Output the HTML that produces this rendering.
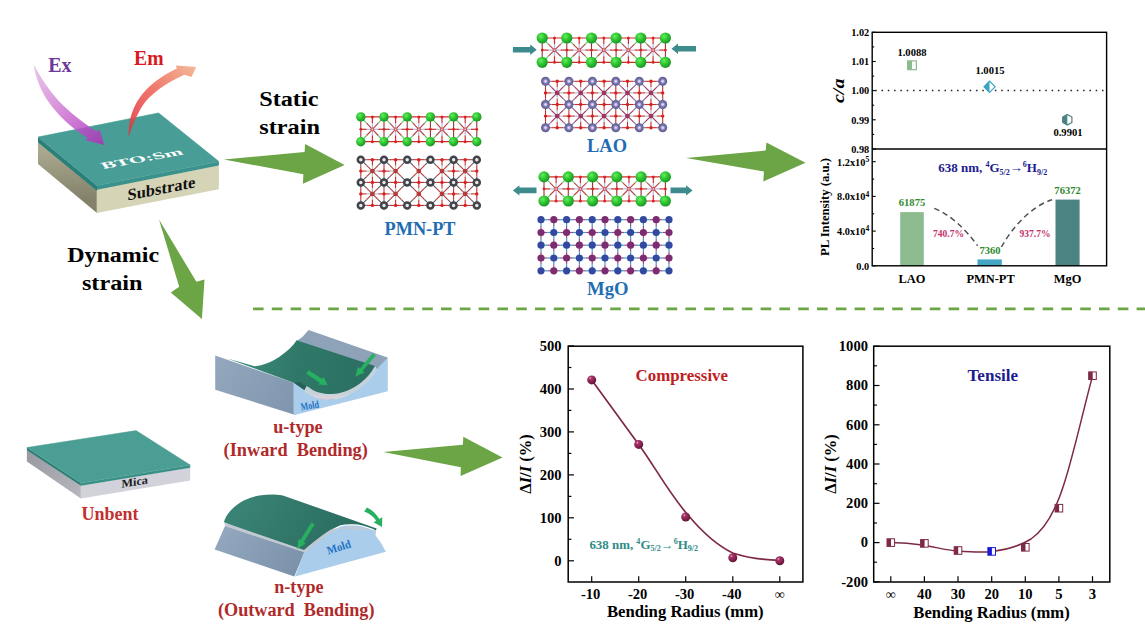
<!DOCTYPE html>
<html><head><meta charset="utf-8"><title>Figure</title>
<style>
html,body{margin:0;padding:0;background:#fff;}
body{width:1145px;height:644px;overflow:hidden;font-family:"Liberation Serif",serif;}
svg{display:block;font-family:"Liberation Serif",serif;}
</style></head><body>
<svg width="1145" height="644" viewBox="0 0 1145 644">
<rect width="1145" height="644" fill="#fff"/>
<defs>
<linearGradient id="gEx" gradientUnits="userSpaceOnUse" x1="34" y1="64" x2="104" y2="145">
<stop offset="0" stop-color="#d69ad6" stop-opacity="0.55"/><stop offset="0.5" stop-color="#cc6fd0" stop-opacity="0.8"/><stop offset="0.8" stop-color="#b848c4" stop-opacity="0.85"/><stop offset="1" stop-color="#a736b6" stop-opacity="0.9"/></linearGradient>
<linearGradient id="gEm" gradientUnits="userSpaceOnUse" x1="129" y1="137" x2="196" y2="67">
<stop offset="0" stop-color="#d83238" stop-opacity="0.75"/><stop offset="0.2" stop-color="#e8484c" stop-opacity="0.9"/><stop offset="0.55" stop-color="#f07a6e"/><stop offset="1" stop-color="#f4b898"/></linearGradient>
<linearGradient id="gSubL" gradientUnits="userSpaceOnUse" x1="60" y1="150" x2="60" y2="200">
<stop offset="0" stop-color="#aaa88e"/><stop offset="1" stop-color="#838169"/></linearGradient>
</defs>
<polygon points="38.0,142.3 97.0,190.6 97.0,213.0 38.0,164.0" fill="url(#gSubL)"/>
<polygon points="96.7,189.2 218.9,165.4 218.9,189.3 96.7,213.0" fill="#d6d4b6"/>
<polygon points="38.0,137.1 97.0,185.4 97.0,190.9 38.0,142.6" fill="#2b7f79"/>
<polygon points="97.0,185.4 218.9,161.6 218.9,165.4 97.0,189.8" fill="#3b918b"/>
<polygon points="38.0,137.1 158.6,113.0 218.9,161.6 97.0,185.4" fill="#489e97" stroke="#489e97" stroke-width="0.7"/>
<text transform="matrix(1.512,-0.277,0.465,0.63,103.4,169.1)" font-size="14" fill="#fff" font-weight="bold">BTO:Sm</text>
<text transform="matrix(1,-0.195,0,1,127.5,200.5)" font-size="16.5" fill="#111" font-weight="bold">Substrate</text>
<path d="M33.5,64.3 C35.5,77 40.5,90.5 48.3,101.6 C58,115.5 72,129 87.7,138 L84.8,140.1 L104.2,145.1 L99.5,129.5 L96.6,131.6 C82,122.5 69,111.5 59.2,101.6 C49.5,91 41,78.5 33.5,64.3 Z" fill="url(#gEx)"/>
<path d="M128.6,137.7 C128,123 131.5,109.5 139.5,98.1 C148,86 161,76 176.8,68.6 L176,65.5 L196.2,66.9 L191.5,76.9 L184.5,74.8 C170,81 158,89 148.8,98.1 C140,107 134,121 128.6,137.7 Z" fill="url(#gEm)"/>
<text x="48.3" y="71.9" font-size="20" fill="#6b3a9a" font-weight="bold" textLength="23.3" lengthAdjust="spacingAndGlyphs">Ex</text>
<text x="134.1" y="64.9" font-size="20" fill="#d8191f" font-weight="bold" textLength="29.5" lengthAdjust="spacingAndGlyphs">Em</text>
<text x="259.2" y="106.0" font-size="20.8" fill="#000" font-weight="bold" textLength="59.2" lengthAdjust="spacingAndGlyphs">Static</text>
<text x="259.2" y="134.3" font-size="20.8" fill="#000" font-weight="bold" textLength="60.8" lengthAdjust="spacingAndGlyphs">strain</text>
<text x="67.2" y="261.6" font-size="20.8" fill="#000" font-weight="bold" textLength="92.0" lengthAdjust="spacingAndGlyphs">Dynamic</text>
<text x="81.9" y="289.9" font-size="20.8" fill="#000" font-weight="bold" textLength="60.6" lengthAdjust="spacingAndGlyphs">strain</text>
<polygon points="223.9,159.5 304.6,152 305.1,144.1 344.6,165.1 302.9,183.8 303.4,174.2" fill="#6ba545"/>
<polygon points="159,219.6 196.4,281.8 204.5,279.4 201.9,319.1 170.8,292.5 179.2,286.8" fill="#6ba545"/>
<polygon points="686.1,157.9 765.7,150.5 766.4,142.4 805.5,162.8 763.3,181.5 763.9,171.5" fill="#6ba545"/>
<polygon points="383.3,451.9 462.9,444.7 463.3,436.8 502.5,457.5 460.6,476 460.8,467.3" fill="#6ba545"/>
<line x1="253" y1="308.9" x2="1146" y2="308.9" stroke="#6ba545" stroke-width="2.6" stroke-dasharray="10.6 8.2"/>
<defs>
<radialGradient id="gBa" cx="0.38" cy="0.35" r="0.65">
<stop offset="0" stop-color="#66ec66"/><stop offset="0.5" stop-color="#2ec82e"/><stop offset="1" stop-color="#1c962a"/></radialGradient>
<radialGradient id="gLa" cx="0.5" cy="0.5" r="0.5"><stop offset="0" stop-color="#f4eeff"/><stop offset="0.2" stop-color="#d2caf2"/><stop offset="0.52" stop-color="#7a74ae"/><stop offset="1" stop-color="#5e5e8c"/></radialGradient>
</defs>
<line x1="360.8" y1="116.9" x2="476.8" y2="116.9" stroke="#cc2e2e" stroke-width="1.2"/>
<line x1="360.8" y1="141.7" x2="476.8" y2="141.7" stroke="#cc2e2e" stroke-width="1.2"/>
<line x1="360.8" y1="116.9" x2="360.8" y2="141.7" stroke="#9a3232" stroke-width="1.1"/>
<line x1="384.0" y1="116.9" x2="384.0" y2="141.7" stroke="#9a3232" stroke-width="1.1"/>
<line x1="407.2" y1="116.9" x2="407.2" y2="141.7" stroke="#9a3232" stroke-width="1.1"/>
<line x1="430.4" y1="116.9" x2="430.4" y2="141.7" stroke="#9a3232" stroke-width="1.1"/>
<line x1="453.6" y1="116.9" x2="453.6" y2="141.7" stroke="#9a3232" stroke-width="1.1"/>
<line x1="476.8" y1="116.9" x2="476.8" y2="141.7" stroke="#9a3232" stroke-width="1.1"/>
<line x1="372.4" y1="129.3" x2="372.4" y2="123.1" stroke="#b9b4e2" stroke-width="1.2"/>
<line x1="372.4" y1="123.1" x2="372.4" y2="116.9" stroke="#cc2e2e" stroke-width="1.2"/>
<line x1="372.4" y1="129.3" x2="372.4" y2="135.5" stroke="#b9b4e2" stroke-width="1.2"/>
<line x1="372.4" y1="135.5" x2="372.4" y2="141.7" stroke="#cc2e2e" stroke-width="1.2"/>
<line x1="372.4" y1="129.3" x2="366.6" y2="129.3" stroke="#b9b4e2" stroke-width="1.2"/>
<line x1="366.6" y1="129.3" x2="360.8" y2="129.3" stroke="#cc2e2e" stroke-width="1.2"/>
<line x1="372.4" y1="129.3" x2="378.2" y2="129.3" stroke="#b9b4e2" stroke-width="1.2"/>
<line x1="378.2" y1="129.3" x2="384.0" y2="129.3" stroke="#cc2e2e" stroke-width="1.2"/>
<line x1="360.8" y1="116.9" x2="366.6" y2="123.1" stroke="#62c862" stroke-width="1.1"/>
<line x1="366.6" y1="123.1" x2="372.4" y2="129.3" stroke="#b84646" stroke-width="1.2"/>
<line x1="384.0" y1="116.9" x2="378.2" y2="123.1" stroke="#62c862" stroke-width="1.1"/>
<line x1="378.2" y1="123.1" x2="372.4" y2="129.3" stroke="#b84646" stroke-width="1.2"/>
<line x1="360.8" y1="141.7" x2="366.6" y2="135.5" stroke="#62c862" stroke-width="1.1"/>
<line x1="366.6" y1="135.5" x2="372.4" y2="129.3" stroke="#b84646" stroke-width="1.2"/>
<line x1="384.0" y1="141.7" x2="378.2" y2="135.5" stroke="#62c862" stroke-width="1.1"/>
<line x1="378.2" y1="135.5" x2="372.4" y2="129.3" stroke="#b84646" stroke-width="1.2"/>
<line x1="395.6" y1="129.3" x2="395.6" y2="123.1" stroke="#b9b4e2" stroke-width="1.2"/>
<line x1="395.6" y1="123.1" x2="395.6" y2="116.9" stroke="#cc2e2e" stroke-width="1.2"/>
<line x1="395.6" y1="129.3" x2="395.6" y2="135.5" stroke="#b9b4e2" stroke-width="1.2"/>
<line x1="395.6" y1="135.5" x2="395.6" y2="141.7" stroke="#cc2e2e" stroke-width="1.2"/>
<line x1="395.6" y1="129.3" x2="389.8" y2="129.3" stroke="#b9b4e2" stroke-width="1.2"/>
<line x1="389.8" y1="129.3" x2="384.0" y2="129.3" stroke="#cc2e2e" stroke-width="1.2"/>
<line x1="395.6" y1="129.3" x2="401.4" y2="129.3" stroke="#b9b4e2" stroke-width="1.2"/>
<line x1="401.4" y1="129.3" x2="407.2" y2="129.3" stroke="#cc2e2e" stroke-width="1.2"/>
<line x1="384.0" y1="116.9" x2="389.8" y2="123.1" stroke="#62c862" stroke-width="1.1"/>
<line x1="389.8" y1="123.1" x2="395.6" y2="129.3" stroke="#b84646" stroke-width="1.2"/>
<line x1="407.2" y1="116.9" x2="401.4" y2="123.1" stroke="#62c862" stroke-width="1.1"/>
<line x1="401.4" y1="123.1" x2="395.6" y2="129.3" stroke="#b84646" stroke-width="1.2"/>
<line x1="384.0" y1="141.7" x2="389.8" y2="135.5" stroke="#62c862" stroke-width="1.1"/>
<line x1="389.8" y1="135.5" x2="395.6" y2="129.3" stroke="#b84646" stroke-width="1.2"/>
<line x1="407.2" y1="141.7" x2="401.4" y2="135.5" stroke="#62c862" stroke-width="1.1"/>
<line x1="401.4" y1="135.5" x2="395.6" y2="129.3" stroke="#b84646" stroke-width="1.2"/>
<line x1="418.8" y1="129.3" x2="418.8" y2="123.1" stroke="#b9b4e2" stroke-width="1.2"/>
<line x1="418.8" y1="123.1" x2="418.8" y2="116.9" stroke="#cc2e2e" stroke-width="1.2"/>
<line x1="418.8" y1="129.3" x2="418.8" y2="135.5" stroke="#b9b4e2" stroke-width="1.2"/>
<line x1="418.8" y1="135.5" x2="418.8" y2="141.7" stroke="#cc2e2e" stroke-width="1.2"/>
<line x1="418.8" y1="129.3" x2="413.0" y2="129.3" stroke="#b9b4e2" stroke-width="1.2"/>
<line x1="413.0" y1="129.3" x2="407.2" y2="129.3" stroke="#cc2e2e" stroke-width="1.2"/>
<line x1="418.8" y1="129.3" x2="424.6" y2="129.3" stroke="#b9b4e2" stroke-width="1.2"/>
<line x1="424.6" y1="129.3" x2="430.4" y2="129.3" stroke="#cc2e2e" stroke-width="1.2"/>
<line x1="407.2" y1="116.9" x2="413.0" y2="123.1" stroke="#62c862" stroke-width="1.1"/>
<line x1="413.0" y1="123.1" x2="418.8" y2="129.3" stroke="#b84646" stroke-width="1.2"/>
<line x1="430.4" y1="116.9" x2="424.6" y2="123.1" stroke="#62c862" stroke-width="1.1"/>
<line x1="424.6" y1="123.1" x2="418.8" y2="129.3" stroke="#b84646" stroke-width="1.2"/>
<line x1="407.2" y1="141.7" x2="413.0" y2="135.5" stroke="#62c862" stroke-width="1.1"/>
<line x1="413.0" y1="135.5" x2="418.8" y2="129.3" stroke="#b84646" stroke-width="1.2"/>
<line x1="430.4" y1="141.7" x2="424.6" y2="135.5" stroke="#62c862" stroke-width="1.1"/>
<line x1="424.6" y1="135.5" x2="418.8" y2="129.3" stroke="#b84646" stroke-width="1.2"/>
<line x1="442.0" y1="129.3" x2="442.0" y2="123.1" stroke="#b9b4e2" stroke-width="1.2"/>
<line x1="442.0" y1="123.1" x2="442.0" y2="116.9" stroke="#cc2e2e" stroke-width="1.2"/>
<line x1="442.0" y1="129.3" x2="442.0" y2="135.5" stroke="#b9b4e2" stroke-width="1.2"/>
<line x1="442.0" y1="135.5" x2="442.0" y2="141.7" stroke="#cc2e2e" stroke-width="1.2"/>
<line x1="442.0" y1="129.3" x2="436.2" y2="129.3" stroke="#b9b4e2" stroke-width="1.2"/>
<line x1="436.2" y1="129.3" x2="430.4" y2="129.3" stroke="#cc2e2e" stroke-width="1.2"/>
<line x1="442.0" y1="129.3" x2="447.8" y2="129.3" stroke="#b9b4e2" stroke-width="1.2"/>
<line x1="447.8" y1="129.3" x2="453.6" y2="129.3" stroke="#cc2e2e" stroke-width="1.2"/>
<line x1="430.4" y1="116.9" x2="436.2" y2="123.1" stroke="#62c862" stroke-width="1.1"/>
<line x1="436.2" y1="123.1" x2="442.0" y2="129.3" stroke="#b84646" stroke-width="1.2"/>
<line x1="453.6" y1="116.9" x2="447.8" y2="123.1" stroke="#62c862" stroke-width="1.1"/>
<line x1="447.8" y1="123.1" x2="442.0" y2="129.3" stroke="#b84646" stroke-width="1.2"/>
<line x1="430.4" y1="141.7" x2="436.2" y2="135.5" stroke="#62c862" stroke-width="1.1"/>
<line x1="436.2" y1="135.5" x2="442.0" y2="129.3" stroke="#b84646" stroke-width="1.2"/>
<line x1="453.6" y1="141.7" x2="447.8" y2="135.5" stroke="#62c862" stroke-width="1.1"/>
<line x1="447.8" y1="135.5" x2="442.0" y2="129.3" stroke="#b84646" stroke-width="1.2"/>
<line x1="465.2" y1="129.3" x2="465.2" y2="123.1" stroke="#b9b4e2" stroke-width="1.2"/>
<line x1="465.2" y1="123.1" x2="465.2" y2="116.9" stroke="#cc2e2e" stroke-width="1.2"/>
<line x1="465.2" y1="129.3" x2="465.2" y2="135.5" stroke="#b9b4e2" stroke-width="1.2"/>
<line x1="465.2" y1="135.5" x2="465.2" y2="141.7" stroke="#cc2e2e" stroke-width="1.2"/>
<line x1="465.2" y1="129.3" x2="459.4" y2="129.3" stroke="#b9b4e2" stroke-width="1.2"/>
<line x1="459.4" y1="129.3" x2="453.6" y2="129.3" stroke="#cc2e2e" stroke-width="1.2"/>
<line x1="465.2" y1="129.3" x2="471.0" y2="129.3" stroke="#b9b4e2" stroke-width="1.2"/>
<line x1="471.0" y1="129.3" x2="476.8" y2="129.3" stroke="#cc2e2e" stroke-width="1.2"/>
<line x1="453.6" y1="116.9" x2="459.4" y2="123.1" stroke="#62c862" stroke-width="1.1"/>
<line x1="459.4" y1="123.1" x2="465.2" y2="129.3" stroke="#b84646" stroke-width="1.2"/>
<line x1="476.8" y1="116.9" x2="471.0" y2="123.1" stroke="#62c862" stroke-width="1.1"/>
<line x1="471.0" y1="123.1" x2="465.2" y2="129.3" stroke="#b84646" stroke-width="1.2"/>
<line x1="453.6" y1="141.7" x2="459.4" y2="135.5" stroke="#62c862" stroke-width="1.1"/>
<line x1="459.4" y1="135.5" x2="465.2" y2="129.3" stroke="#b84646" stroke-width="1.2"/>
<line x1="476.8" y1="141.7" x2="471.0" y2="135.5" stroke="#62c862" stroke-width="1.1"/>
<line x1="471.0" y1="135.5" x2="465.2" y2="129.3" stroke="#b84646" stroke-width="1.2"/>
<circle cx="372.4" cy="116.9" r="1.5" fill="#d82424"/>
<circle cx="372.4" cy="141.7" r="1.5" fill="#d82424"/>
<circle cx="372.4" cy="129.3" r="1.9" fill="#c85a5a"/>
<circle cx="372.4" cy="129.3" r="0.9" fill="#f4c4c0"/>
<circle cx="395.6" cy="116.9" r="1.5" fill="#d82424"/>
<circle cx="395.6" cy="141.7" r="1.5" fill="#d82424"/>
<circle cx="395.6" cy="129.3" r="1.9" fill="#c85a5a"/>
<circle cx="395.6" cy="129.3" r="0.9" fill="#f4c4c0"/>
<circle cx="418.8" cy="116.9" r="1.5" fill="#d82424"/>
<circle cx="418.8" cy="141.7" r="1.5" fill="#d82424"/>
<circle cx="418.8" cy="129.3" r="1.9" fill="#c85a5a"/>
<circle cx="418.8" cy="129.3" r="0.9" fill="#f4c4c0"/>
<circle cx="442.0" cy="116.9" r="1.5" fill="#d82424"/>
<circle cx="442.0" cy="141.7" r="1.5" fill="#d82424"/>
<circle cx="442.0" cy="129.3" r="1.9" fill="#c85a5a"/>
<circle cx="442.0" cy="129.3" r="0.9" fill="#f4c4c0"/>
<circle cx="465.2" cy="116.9" r="1.5" fill="#d82424"/>
<circle cx="465.2" cy="141.7" r="1.5" fill="#d82424"/>
<circle cx="465.2" cy="129.3" r="1.9" fill="#c85a5a"/>
<circle cx="465.2" cy="129.3" r="0.9" fill="#f4c4c0"/>
<circle cx="360.8" cy="129.3" r="1.4" fill="#d82424"/>
<circle cx="384.0" cy="129.3" r="1.4" fill="#d82424"/>
<circle cx="407.2" cy="129.3" r="1.4" fill="#d82424"/>
<circle cx="430.4" cy="129.3" r="1.4" fill="#d82424"/>
<circle cx="453.6" cy="129.3" r="1.4" fill="#d82424"/>
<circle cx="476.8" cy="129.3" r="1.4" fill="#d82424"/>
<circle cx="360.8" cy="116.9" r="4.7" fill="url(#gBa)"/>
<circle cx="360.8" cy="141.7" r="4.7" fill="url(#gBa)"/>
<circle cx="384.0" cy="116.9" r="4.7" fill="url(#gBa)"/>
<circle cx="384.0" cy="141.7" r="4.7" fill="url(#gBa)"/>
<circle cx="407.2" cy="116.9" r="4.7" fill="url(#gBa)"/>
<circle cx="407.2" cy="141.7" r="4.7" fill="url(#gBa)"/>
<circle cx="430.4" cy="116.9" r="4.7" fill="url(#gBa)"/>
<circle cx="430.4" cy="141.7" r="4.7" fill="url(#gBa)"/>
<circle cx="453.6" cy="116.9" r="4.7" fill="url(#gBa)"/>
<circle cx="453.6" cy="141.7" r="4.7" fill="url(#gBa)"/>
<circle cx="476.8" cy="116.9" r="4.7" fill="url(#gBa)"/>
<circle cx="476.8" cy="141.7" r="4.7" fill="url(#gBa)"/>
<line x1="360.8" y1="159.7" x2="366.6" y2="159.7" stroke="#5a5a62" stroke-width="1.1"/>
<line x1="366.6" y1="159.7" x2="372.4" y2="159.7" stroke="#cc2a2a" stroke-width="1.1"/>
<line x1="384.0" y1="159.7" x2="378.2" y2="159.7" stroke="#5a5a62" stroke-width="1.1"/>
<line x1="378.2" y1="159.7" x2="372.4" y2="159.7" stroke="#cc2a2a" stroke-width="1.1"/>
<line x1="384.0" y1="159.7" x2="389.8" y2="159.7" stroke="#5a5a62" stroke-width="1.1"/>
<line x1="389.8" y1="159.7" x2="395.6" y2="159.7" stroke="#cc2a2a" stroke-width="1.1"/>
<line x1="407.2" y1="159.7" x2="401.4" y2="159.7" stroke="#5a5a62" stroke-width="1.1"/>
<line x1="401.4" y1="159.7" x2="395.6" y2="159.7" stroke="#cc2a2a" stroke-width="1.1"/>
<line x1="407.2" y1="159.7" x2="413.0" y2="159.7" stroke="#5a5a62" stroke-width="1.1"/>
<line x1="413.0" y1="159.7" x2="418.8" y2="159.7" stroke="#cc2a2a" stroke-width="1.1"/>
<line x1="430.4" y1="159.7" x2="424.6" y2="159.7" stroke="#5a5a62" stroke-width="1.1"/>
<line x1="424.6" y1="159.7" x2="418.8" y2="159.7" stroke="#cc2a2a" stroke-width="1.1"/>
<line x1="430.4" y1="159.7" x2="436.2" y2="159.7" stroke="#5a5a62" stroke-width="1.1"/>
<line x1="436.2" y1="159.7" x2="442.0" y2="159.7" stroke="#cc2a2a" stroke-width="1.1"/>
<line x1="453.6" y1="159.7" x2="447.8" y2="159.7" stroke="#5a5a62" stroke-width="1.1"/>
<line x1="447.8" y1="159.7" x2="442.0" y2="159.7" stroke="#cc2a2a" stroke-width="1.1"/>
<line x1="453.6" y1="159.7" x2="459.4" y2="159.7" stroke="#5a5a62" stroke-width="1.1"/>
<line x1="459.4" y1="159.7" x2="465.2" y2="159.7" stroke="#cc2a2a" stroke-width="1.1"/>
<line x1="476.8" y1="159.7" x2="471.0" y2="159.7" stroke="#5a5a62" stroke-width="1.1"/>
<line x1="471.0" y1="159.7" x2="465.2" y2="159.7" stroke="#cc2a2a" stroke-width="1.1"/>
<line x1="360.8" y1="182.4" x2="366.6" y2="182.4" stroke="#5a5a62" stroke-width="1.1"/>
<line x1="366.6" y1="182.4" x2="372.4" y2="182.4" stroke="#cc2a2a" stroke-width="1.1"/>
<line x1="384.0" y1="182.4" x2="378.2" y2="182.4" stroke="#5a5a62" stroke-width="1.1"/>
<line x1="378.2" y1="182.4" x2="372.4" y2="182.4" stroke="#cc2a2a" stroke-width="1.1"/>
<line x1="384.0" y1="182.4" x2="389.8" y2="182.4" stroke="#5a5a62" stroke-width="1.1"/>
<line x1="389.8" y1="182.4" x2="395.6" y2="182.4" stroke="#cc2a2a" stroke-width="1.1"/>
<line x1="407.2" y1="182.4" x2="401.4" y2="182.4" stroke="#5a5a62" stroke-width="1.1"/>
<line x1="401.4" y1="182.4" x2="395.6" y2="182.4" stroke="#cc2a2a" stroke-width="1.1"/>
<line x1="407.2" y1="182.4" x2="413.0" y2="182.4" stroke="#5a5a62" stroke-width="1.1"/>
<line x1="413.0" y1="182.4" x2="418.8" y2="182.4" stroke="#cc2a2a" stroke-width="1.1"/>
<line x1="430.4" y1="182.4" x2="424.6" y2="182.4" stroke="#5a5a62" stroke-width="1.1"/>
<line x1="424.6" y1="182.4" x2="418.8" y2="182.4" stroke="#cc2a2a" stroke-width="1.1"/>
<line x1="430.4" y1="182.4" x2="436.2" y2="182.4" stroke="#5a5a62" stroke-width="1.1"/>
<line x1="436.2" y1="182.4" x2="442.0" y2="182.4" stroke="#cc2a2a" stroke-width="1.1"/>
<line x1="453.6" y1="182.4" x2="447.8" y2="182.4" stroke="#5a5a62" stroke-width="1.1"/>
<line x1="447.8" y1="182.4" x2="442.0" y2="182.4" stroke="#cc2a2a" stroke-width="1.1"/>
<line x1="453.6" y1="182.4" x2="459.4" y2="182.4" stroke="#5a5a62" stroke-width="1.1"/>
<line x1="459.4" y1="182.4" x2="465.2" y2="182.4" stroke="#cc2a2a" stroke-width="1.1"/>
<line x1="476.8" y1="182.4" x2="471.0" y2="182.4" stroke="#5a5a62" stroke-width="1.1"/>
<line x1="471.0" y1="182.4" x2="465.2" y2="182.4" stroke="#cc2a2a" stroke-width="1.1"/>
<line x1="360.8" y1="205.4" x2="366.6" y2="205.4" stroke="#5a5a62" stroke-width="1.1"/>
<line x1="366.6" y1="205.4" x2="372.4" y2="205.4" stroke="#cc2a2a" stroke-width="1.1"/>
<line x1="384.0" y1="205.4" x2="378.2" y2="205.4" stroke="#5a5a62" stroke-width="1.1"/>
<line x1="378.2" y1="205.4" x2="372.4" y2="205.4" stroke="#cc2a2a" stroke-width="1.1"/>
<line x1="384.0" y1="205.4" x2="389.8" y2="205.4" stroke="#5a5a62" stroke-width="1.1"/>
<line x1="389.8" y1="205.4" x2="395.6" y2="205.4" stroke="#cc2a2a" stroke-width="1.1"/>
<line x1="407.2" y1="205.4" x2="401.4" y2="205.4" stroke="#5a5a62" stroke-width="1.1"/>
<line x1="401.4" y1="205.4" x2="395.6" y2="205.4" stroke="#cc2a2a" stroke-width="1.1"/>
<line x1="407.2" y1="205.4" x2="413.0" y2="205.4" stroke="#5a5a62" stroke-width="1.1"/>
<line x1="413.0" y1="205.4" x2="418.8" y2="205.4" stroke="#cc2a2a" stroke-width="1.1"/>
<line x1="430.4" y1="205.4" x2="424.6" y2="205.4" stroke="#5a5a62" stroke-width="1.1"/>
<line x1="424.6" y1="205.4" x2="418.8" y2="205.4" stroke="#cc2a2a" stroke-width="1.1"/>
<line x1="430.4" y1="205.4" x2="436.2" y2="205.4" stroke="#5a5a62" stroke-width="1.1"/>
<line x1="436.2" y1="205.4" x2="442.0" y2="205.4" stroke="#cc2a2a" stroke-width="1.1"/>
<line x1="453.6" y1="205.4" x2="447.8" y2="205.4" stroke="#5a5a62" stroke-width="1.1"/>
<line x1="447.8" y1="205.4" x2="442.0" y2="205.4" stroke="#cc2a2a" stroke-width="1.1"/>
<line x1="453.6" y1="205.4" x2="459.4" y2="205.4" stroke="#5a5a62" stroke-width="1.1"/>
<line x1="459.4" y1="205.4" x2="465.2" y2="205.4" stroke="#cc2a2a" stroke-width="1.1"/>
<line x1="476.8" y1="205.4" x2="471.0" y2="205.4" stroke="#5a5a62" stroke-width="1.1"/>
<line x1="471.0" y1="205.4" x2="465.2" y2="205.4" stroke="#cc2a2a" stroke-width="1.1"/>
<line x1="360.8" y1="159.7" x2="360.8" y2="165.4" stroke="#5a4660" stroke-width="1.1"/>
<line x1="360.8" y1="165.4" x2="360.8" y2="171.1" stroke="#cc2a2a" stroke-width="1.1"/>
<line x1="360.8" y1="182.4" x2="360.8" y2="176.7" stroke="#5a4660" stroke-width="1.1"/>
<line x1="360.8" y1="176.7" x2="360.8" y2="171.1" stroke="#cc2a2a" stroke-width="1.1"/>
<line x1="360.8" y1="182.4" x2="360.8" y2="188.2" stroke="#5a4660" stroke-width="1.1"/>
<line x1="360.8" y1="188.2" x2="360.8" y2="193.9" stroke="#cc2a2a" stroke-width="1.1"/>
<line x1="360.8" y1="205.4" x2="360.8" y2="199.7" stroke="#5a4660" stroke-width="1.1"/>
<line x1="360.8" y1="199.7" x2="360.8" y2="193.9" stroke="#cc2a2a" stroke-width="1.1"/>
<line x1="384.0" y1="159.7" x2="384.0" y2="165.4" stroke="#5a4660" stroke-width="1.1"/>
<line x1="384.0" y1="165.4" x2="384.0" y2="171.1" stroke="#cc2a2a" stroke-width="1.1"/>
<line x1="384.0" y1="182.4" x2="384.0" y2="176.7" stroke="#5a4660" stroke-width="1.1"/>
<line x1="384.0" y1="176.7" x2="384.0" y2="171.1" stroke="#cc2a2a" stroke-width="1.1"/>
<line x1="384.0" y1="182.4" x2="384.0" y2="188.2" stroke="#5a4660" stroke-width="1.1"/>
<line x1="384.0" y1="188.2" x2="384.0" y2="193.9" stroke="#cc2a2a" stroke-width="1.1"/>
<line x1="384.0" y1="205.4" x2="384.0" y2="199.7" stroke="#5a4660" stroke-width="1.1"/>
<line x1="384.0" y1="199.7" x2="384.0" y2="193.9" stroke="#cc2a2a" stroke-width="1.1"/>
<line x1="453.6" y1="159.7" x2="453.6" y2="165.4" stroke="#5a4660" stroke-width="1.1"/>
<line x1="453.6" y1="165.4" x2="453.6" y2="171.1" stroke="#cc2a2a" stroke-width="1.1"/>
<line x1="453.6" y1="182.4" x2="453.6" y2="176.7" stroke="#5a4660" stroke-width="1.1"/>
<line x1="453.6" y1="176.7" x2="453.6" y2="171.1" stroke="#cc2a2a" stroke-width="1.1"/>
<line x1="453.6" y1="182.4" x2="453.6" y2="188.2" stroke="#5a4660" stroke-width="1.1"/>
<line x1="453.6" y1="188.2" x2="453.6" y2="193.9" stroke="#cc2a2a" stroke-width="1.1"/>
<line x1="453.6" y1="205.4" x2="453.6" y2="199.7" stroke="#5a4660" stroke-width="1.1"/>
<line x1="453.6" y1="199.7" x2="453.6" y2="193.9" stroke="#cc2a2a" stroke-width="1.1"/>
<line x1="476.8" y1="159.7" x2="476.8" y2="165.4" stroke="#5a4660" stroke-width="1.1"/>
<line x1="476.8" y1="165.4" x2="476.8" y2="171.1" stroke="#cc2a2a" stroke-width="1.1"/>
<line x1="476.8" y1="182.4" x2="476.8" y2="176.7" stroke="#5a4660" stroke-width="1.1"/>
<line x1="476.8" y1="176.7" x2="476.8" y2="171.1" stroke="#cc2a2a" stroke-width="1.1"/>
<line x1="476.8" y1="182.4" x2="476.8" y2="188.2" stroke="#5a4660" stroke-width="1.1"/>
<line x1="476.8" y1="188.2" x2="476.8" y2="193.9" stroke="#cc2a2a" stroke-width="1.1"/>
<line x1="476.8" y1="205.4" x2="476.8" y2="199.7" stroke="#5a4660" stroke-width="1.1"/>
<line x1="476.8" y1="199.7" x2="476.8" y2="193.9" stroke="#cc2a2a" stroke-width="1.1"/>
<line x1="372.4" y1="171.1" x2="372.4" y2="165.4" stroke="#a9c6c6" stroke-width="1.1"/>
<line x1="372.4" y1="165.4" x2="372.4" y2="159.7" stroke="#cc2a2a" stroke-width="1.1"/>
<line x1="372.4" y1="171.1" x2="372.4" y2="176.7" stroke="#a9c6c6" stroke-width="1.1"/>
<line x1="372.4" y1="176.7" x2="372.4" y2="182.4" stroke="#cc2a2a" stroke-width="1.1"/>
<line x1="372.4" y1="171.1" x2="366.6" y2="171.1" stroke="#a9c6c6" stroke-width="1.1"/>
<line x1="366.6" y1="171.1" x2="360.8" y2="171.1" stroke="#cc2a2a" stroke-width="1.1"/>
<line x1="372.4" y1="171.1" x2="378.2" y2="171.1" stroke="#a9c6c6" stroke-width="1.1"/>
<line x1="378.2" y1="171.1" x2="384.0" y2="171.1" stroke="#cc2a2a" stroke-width="1.1"/>
<line x1="360.8" y1="159.7" x2="366.6" y2="165.4" stroke="#5a5a62" stroke-width="1.1"/>
<line x1="366.6" y1="165.4" x2="372.4" y2="171.1" stroke="#b83a3a" stroke-width="1.1"/>
<line x1="384.0" y1="159.7" x2="378.2" y2="165.4" stroke="#5a5a62" stroke-width="1.1"/>
<line x1="378.2" y1="165.4" x2="372.4" y2="171.1" stroke="#b83a3a" stroke-width="1.1"/>
<line x1="360.8" y1="182.4" x2="366.6" y2="176.7" stroke="#5a5a62" stroke-width="1.1"/>
<line x1="366.6" y1="176.7" x2="372.4" y2="171.1" stroke="#b83a3a" stroke-width="1.1"/>
<line x1="384.0" y1="182.4" x2="378.2" y2="176.7" stroke="#5a5a62" stroke-width="1.1"/>
<line x1="378.2" y1="176.7" x2="372.4" y2="171.1" stroke="#b83a3a" stroke-width="1.1"/>
<line x1="372.4" y1="193.9" x2="372.4" y2="188.2" stroke="#a9c6c6" stroke-width="1.1"/>
<line x1="372.4" y1="188.2" x2="372.4" y2="182.4" stroke="#cc2a2a" stroke-width="1.1"/>
<line x1="372.4" y1="193.9" x2="372.4" y2="199.7" stroke="#a9c6c6" stroke-width="1.1"/>
<line x1="372.4" y1="199.7" x2="372.4" y2="205.4" stroke="#cc2a2a" stroke-width="1.1"/>
<line x1="372.4" y1="193.9" x2="366.6" y2="193.9" stroke="#a9c6c6" stroke-width="1.1"/>
<line x1="366.6" y1="193.9" x2="360.8" y2="193.9" stroke="#cc2a2a" stroke-width="1.1"/>
<line x1="372.4" y1="193.9" x2="378.2" y2="193.9" stroke="#a9c6c6" stroke-width="1.1"/>
<line x1="378.2" y1="193.9" x2="384.0" y2="193.9" stroke="#cc2a2a" stroke-width="1.1"/>
<line x1="360.8" y1="182.4" x2="366.6" y2="188.2" stroke="#5a5a62" stroke-width="1.1"/>
<line x1="366.6" y1="188.2" x2="372.4" y2="193.9" stroke="#b83a3a" stroke-width="1.1"/>
<line x1="384.0" y1="182.4" x2="378.2" y2="188.2" stroke="#5a5a62" stroke-width="1.1"/>
<line x1="378.2" y1="188.2" x2="372.4" y2="193.9" stroke="#b83a3a" stroke-width="1.1"/>
<line x1="360.8" y1="205.4" x2="366.6" y2="199.7" stroke="#5a5a62" stroke-width="1.1"/>
<line x1="366.6" y1="199.7" x2="372.4" y2="193.9" stroke="#b83a3a" stroke-width="1.1"/>
<line x1="384.0" y1="205.4" x2="378.2" y2="199.7" stroke="#5a5a62" stroke-width="1.1"/>
<line x1="378.2" y1="199.7" x2="372.4" y2="193.9" stroke="#b83a3a" stroke-width="1.1"/>
<line x1="395.6" y1="171.1" x2="395.6" y2="165.4" stroke="#a9c6c6" stroke-width="1.1"/>
<line x1="395.6" y1="165.4" x2="395.6" y2="159.7" stroke="#cc2a2a" stroke-width="1.1"/>
<line x1="395.6" y1="171.1" x2="395.6" y2="176.7" stroke="#a9c6c6" stroke-width="1.1"/>
<line x1="395.6" y1="176.7" x2="395.6" y2="182.4" stroke="#cc2a2a" stroke-width="1.1"/>
<line x1="395.6" y1="171.1" x2="389.8" y2="171.1" stroke="#a9c6c6" stroke-width="1.1"/>
<line x1="389.8" y1="171.1" x2="384.0" y2="171.1" stroke="#cc2a2a" stroke-width="1.1"/>
<line x1="384.0" y1="159.7" x2="389.8" y2="165.4" stroke="#5a5a62" stroke-width="1.1"/>
<line x1="389.8" y1="165.4" x2="395.6" y2="171.1" stroke="#b83a3a" stroke-width="1.1"/>
<line x1="407.2" y1="159.7" x2="401.4" y2="165.4" stroke="#5a5a62" stroke-width="1.1"/>
<line x1="401.4" y1="165.4" x2="395.6" y2="171.1" stroke="#b83a3a" stroke-width="1.1"/>
<line x1="384.0" y1="182.4" x2="389.8" y2="176.7" stroke="#5a5a62" stroke-width="1.1"/>
<line x1="389.8" y1="176.7" x2="395.6" y2="171.1" stroke="#b83a3a" stroke-width="1.1"/>
<line x1="407.2" y1="182.4" x2="401.4" y2="176.7" stroke="#5a5a62" stroke-width="1.1"/>
<line x1="401.4" y1="176.7" x2="395.6" y2="171.1" stroke="#b83a3a" stroke-width="1.1"/>
<line x1="395.6" y1="193.9" x2="395.6" y2="188.2" stroke="#a9c6c6" stroke-width="1.1"/>
<line x1="395.6" y1="188.2" x2="395.6" y2="182.4" stroke="#cc2a2a" stroke-width="1.1"/>
<line x1="395.6" y1="193.9" x2="395.6" y2="199.7" stroke="#a9c6c6" stroke-width="1.1"/>
<line x1="395.6" y1="199.7" x2="395.6" y2="205.4" stroke="#cc2a2a" stroke-width="1.1"/>
<line x1="395.6" y1="193.9" x2="389.8" y2="193.9" stroke="#a9c6c6" stroke-width="1.1"/>
<line x1="389.8" y1="193.9" x2="384.0" y2="193.9" stroke="#cc2a2a" stroke-width="1.1"/>
<line x1="384.0" y1="182.4" x2="389.8" y2="188.2" stroke="#5a5a62" stroke-width="1.1"/>
<line x1="389.8" y1="188.2" x2="395.6" y2="193.9" stroke="#b83a3a" stroke-width="1.1"/>
<line x1="407.2" y1="182.4" x2="401.4" y2="188.2" stroke="#5a5a62" stroke-width="1.1"/>
<line x1="401.4" y1="188.2" x2="395.6" y2="193.9" stroke="#b83a3a" stroke-width="1.1"/>
<line x1="384.0" y1="205.4" x2="389.8" y2="199.7" stroke="#5a5a62" stroke-width="1.1"/>
<line x1="389.8" y1="199.7" x2="395.6" y2="193.9" stroke="#b83a3a" stroke-width="1.1"/>
<line x1="407.2" y1="205.4" x2="401.4" y2="199.7" stroke="#5a5a62" stroke-width="1.1"/>
<line x1="401.4" y1="199.7" x2="395.6" y2="193.9" stroke="#b83a3a" stroke-width="1.1"/>
<line x1="418.8" y1="171.1" x2="418.8" y2="165.4" stroke="#a9c6c6" stroke-width="1.1"/>
<line x1="418.8" y1="165.4" x2="418.8" y2="159.7" stroke="#cc2a2a" stroke-width="1.1"/>
<line x1="418.8" y1="171.1" x2="418.8" y2="176.7" stroke="#a9c6c6" stroke-width="1.1"/>
<line x1="418.8" y1="176.7" x2="418.8" y2="182.4" stroke="#cc2a2a" stroke-width="1.1"/>
<line x1="407.2" y1="159.7" x2="413.0" y2="165.4" stroke="#5a5a62" stroke-width="1.1"/>
<line x1="413.0" y1="165.4" x2="418.8" y2="171.1" stroke="#b83a3a" stroke-width="1.1"/>
<line x1="430.4" y1="159.7" x2="424.6" y2="165.4" stroke="#5a5a62" stroke-width="1.1"/>
<line x1="424.6" y1="165.4" x2="418.8" y2="171.1" stroke="#b83a3a" stroke-width="1.1"/>
<line x1="407.2" y1="182.4" x2="413.0" y2="176.7" stroke="#5a5a62" stroke-width="1.1"/>
<line x1="413.0" y1="176.7" x2="418.8" y2="171.1" stroke="#b83a3a" stroke-width="1.1"/>
<line x1="430.4" y1="182.4" x2="424.6" y2="176.7" stroke="#5a5a62" stroke-width="1.1"/>
<line x1="424.6" y1="176.7" x2="418.8" y2="171.1" stroke="#b83a3a" stroke-width="1.1"/>
<line x1="418.8" y1="193.9" x2="418.8" y2="188.2" stroke="#a9c6c6" stroke-width="1.1"/>
<line x1="418.8" y1="188.2" x2="418.8" y2="182.4" stroke="#cc2a2a" stroke-width="1.1"/>
<line x1="418.8" y1="193.9" x2="418.8" y2="199.7" stroke="#a9c6c6" stroke-width="1.1"/>
<line x1="418.8" y1="199.7" x2="418.8" y2="205.4" stroke="#cc2a2a" stroke-width="1.1"/>
<line x1="407.2" y1="182.4" x2="413.0" y2="188.2" stroke="#5a5a62" stroke-width="1.1"/>
<line x1="413.0" y1="188.2" x2="418.8" y2="193.9" stroke="#b83a3a" stroke-width="1.1"/>
<line x1="430.4" y1="182.4" x2="424.6" y2="188.2" stroke="#5a5a62" stroke-width="1.1"/>
<line x1="424.6" y1="188.2" x2="418.8" y2="193.9" stroke="#b83a3a" stroke-width="1.1"/>
<line x1="407.2" y1="205.4" x2="413.0" y2="199.7" stroke="#5a5a62" stroke-width="1.1"/>
<line x1="413.0" y1="199.7" x2="418.8" y2="193.9" stroke="#b83a3a" stroke-width="1.1"/>
<line x1="430.4" y1="205.4" x2="424.6" y2="199.7" stroke="#5a5a62" stroke-width="1.1"/>
<line x1="424.6" y1="199.7" x2="418.8" y2="193.9" stroke="#b83a3a" stroke-width="1.1"/>
<line x1="442.0" y1="171.1" x2="442.0" y2="165.4" stroke="#a9c6c6" stroke-width="1.1"/>
<line x1="442.0" y1="165.4" x2="442.0" y2="159.7" stroke="#cc2a2a" stroke-width="1.1"/>
<line x1="442.0" y1="171.1" x2="442.0" y2="176.7" stroke="#a9c6c6" stroke-width="1.1"/>
<line x1="442.0" y1="176.7" x2="442.0" y2="182.4" stroke="#cc2a2a" stroke-width="1.1"/>
<line x1="442.0" y1="171.1" x2="447.8" y2="171.1" stroke="#a9c6c6" stroke-width="1.1"/>
<line x1="447.8" y1="171.1" x2="453.6" y2="171.1" stroke="#cc2a2a" stroke-width="1.1"/>
<line x1="430.4" y1="159.7" x2="436.2" y2="165.4" stroke="#5a5a62" stroke-width="1.1"/>
<line x1="436.2" y1="165.4" x2="442.0" y2="171.1" stroke="#b83a3a" stroke-width="1.1"/>
<line x1="453.6" y1="159.7" x2="447.8" y2="165.4" stroke="#5a5a62" stroke-width="1.1"/>
<line x1="447.8" y1="165.4" x2="442.0" y2="171.1" stroke="#b83a3a" stroke-width="1.1"/>
<line x1="430.4" y1="182.4" x2="436.2" y2="176.7" stroke="#5a5a62" stroke-width="1.1"/>
<line x1="436.2" y1="176.7" x2="442.0" y2="171.1" stroke="#b83a3a" stroke-width="1.1"/>
<line x1="453.6" y1="182.4" x2="447.8" y2="176.7" stroke="#5a5a62" stroke-width="1.1"/>
<line x1="447.8" y1="176.7" x2="442.0" y2="171.1" stroke="#b83a3a" stroke-width="1.1"/>
<line x1="442.0" y1="193.9" x2="442.0" y2="188.2" stroke="#a9c6c6" stroke-width="1.1"/>
<line x1="442.0" y1="188.2" x2="442.0" y2="182.4" stroke="#cc2a2a" stroke-width="1.1"/>
<line x1="442.0" y1="193.9" x2="442.0" y2="199.7" stroke="#a9c6c6" stroke-width="1.1"/>
<line x1="442.0" y1="199.7" x2="442.0" y2="205.4" stroke="#cc2a2a" stroke-width="1.1"/>
<line x1="442.0" y1="193.9" x2="447.8" y2="193.9" stroke="#a9c6c6" stroke-width="1.1"/>
<line x1="447.8" y1="193.9" x2="453.6" y2="193.9" stroke="#cc2a2a" stroke-width="1.1"/>
<line x1="430.4" y1="182.4" x2="436.2" y2="188.2" stroke="#5a5a62" stroke-width="1.1"/>
<line x1="436.2" y1="188.2" x2="442.0" y2="193.9" stroke="#b83a3a" stroke-width="1.1"/>
<line x1="453.6" y1="182.4" x2="447.8" y2="188.2" stroke="#5a5a62" stroke-width="1.1"/>
<line x1="447.8" y1="188.2" x2="442.0" y2="193.9" stroke="#b83a3a" stroke-width="1.1"/>
<line x1="430.4" y1="205.4" x2="436.2" y2="199.7" stroke="#5a5a62" stroke-width="1.1"/>
<line x1="436.2" y1="199.7" x2="442.0" y2="193.9" stroke="#b83a3a" stroke-width="1.1"/>
<line x1="453.6" y1="205.4" x2="447.8" y2="199.7" stroke="#5a5a62" stroke-width="1.1"/>
<line x1="447.8" y1="199.7" x2="442.0" y2="193.9" stroke="#b83a3a" stroke-width="1.1"/>
<line x1="465.2" y1="171.1" x2="465.2" y2="165.4" stroke="#a9c6c6" stroke-width="1.1"/>
<line x1="465.2" y1="165.4" x2="465.2" y2="159.7" stroke="#cc2a2a" stroke-width="1.1"/>
<line x1="465.2" y1="171.1" x2="465.2" y2="176.7" stroke="#a9c6c6" stroke-width="1.1"/>
<line x1="465.2" y1="176.7" x2="465.2" y2="182.4" stroke="#cc2a2a" stroke-width="1.1"/>
<line x1="465.2" y1="171.1" x2="459.4" y2="171.1" stroke="#a9c6c6" stroke-width="1.1"/>
<line x1="459.4" y1="171.1" x2="453.6" y2="171.1" stroke="#cc2a2a" stroke-width="1.1"/>
<line x1="465.2" y1="171.1" x2="471.0" y2="171.1" stroke="#a9c6c6" stroke-width="1.1"/>
<line x1="471.0" y1="171.1" x2="476.8" y2="171.1" stroke="#cc2a2a" stroke-width="1.1"/>
<line x1="453.6" y1="159.7" x2="459.4" y2="165.4" stroke="#5a5a62" stroke-width="1.1"/>
<line x1="459.4" y1="165.4" x2="465.2" y2="171.1" stroke="#b83a3a" stroke-width="1.1"/>
<line x1="476.8" y1="159.7" x2="471.0" y2="165.4" stroke="#5a5a62" stroke-width="1.1"/>
<line x1="471.0" y1="165.4" x2="465.2" y2="171.1" stroke="#b83a3a" stroke-width="1.1"/>
<line x1="453.6" y1="182.4" x2="459.4" y2="176.7" stroke="#5a5a62" stroke-width="1.1"/>
<line x1="459.4" y1="176.7" x2="465.2" y2="171.1" stroke="#b83a3a" stroke-width="1.1"/>
<line x1="476.8" y1="182.4" x2="471.0" y2="176.7" stroke="#5a5a62" stroke-width="1.1"/>
<line x1="471.0" y1="176.7" x2="465.2" y2="171.1" stroke="#b83a3a" stroke-width="1.1"/>
<line x1="465.2" y1="193.9" x2="465.2" y2="188.2" stroke="#a9c6c6" stroke-width="1.1"/>
<line x1="465.2" y1="188.2" x2="465.2" y2="182.4" stroke="#cc2a2a" stroke-width="1.1"/>
<line x1="465.2" y1="193.9" x2="465.2" y2="199.7" stroke="#a9c6c6" stroke-width="1.1"/>
<line x1="465.2" y1="199.7" x2="465.2" y2="205.4" stroke="#cc2a2a" stroke-width="1.1"/>
<line x1="465.2" y1="193.9" x2="459.4" y2="193.9" stroke="#a9c6c6" stroke-width="1.1"/>
<line x1="459.4" y1="193.9" x2="453.6" y2="193.9" stroke="#cc2a2a" stroke-width="1.1"/>
<line x1="465.2" y1="193.9" x2="471.0" y2="193.9" stroke="#a9c6c6" stroke-width="1.1"/>
<line x1="471.0" y1="193.9" x2="476.8" y2="193.9" stroke="#cc2a2a" stroke-width="1.1"/>
<line x1="453.6" y1="182.4" x2="459.4" y2="188.2" stroke="#5a5a62" stroke-width="1.1"/>
<line x1="459.4" y1="188.2" x2="465.2" y2="193.9" stroke="#b83a3a" stroke-width="1.1"/>
<line x1="476.8" y1="182.4" x2="471.0" y2="188.2" stroke="#5a5a62" stroke-width="1.1"/>
<line x1="471.0" y1="188.2" x2="465.2" y2="193.9" stroke="#b83a3a" stroke-width="1.1"/>
<line x1="453.6" y1="205.4" x2="459.4" y2="199.7" stroke="#5a5a62" stroke-width="1.1"/>
<line x1="459.4" y1="199.7" x2="465.2" y2="193.9" stroke="#b83a3a" stroke-width="1.1"/>
<line x1="476.8" y1="205.4" x2="471.0" y2="199.7" stroke="#5a5a62" stroke-width="1.1"/>
<line x1="471.0" y1="199.7" x2="465.2" y2="193.9" stroke="#b83a3a" stroke-width="1.1"/>
<circle cx="372.4" cy="159.7" r="1.7" fill="#d42222"/>
<circle cx="372.4" cy="182.4" r="1.7" fill="#d42222"/>
<circle cx="372.4" cy="205.4" r="1.7" fill="#d42222"/>
<circle cx="372.4" cy="171.1" r="2.4" fill="#b83a3a"/>
<circle cx="372.4" cy="193.9" r="2.4" fill="#b83a3a"/>
<circle cx="395.6" cy="159.7" r="1.7" fill="#d42222"/>
<circle cx="395.6" cy="182.4" r="1.7" fill="#d42222"/>
<circle cx="395.6" cy="205.4" r="1.7" fill="#d42222"/>
<circle cx="395.6" cy="171.1" r="2.4" fill="#b83a3a"/>
<circle cx="395.6" cy="193.9" r="2.4" fill="#b83a3a"/>
<circle cx="418.8" cy="159.7" r="1.7" fill="#d42222"/>
<circle cx="418.8" cy="182.4" r="1.7" fill="#d42222"/>
<circle cx="418.8" cy="205.4" r="1.7" fill="#d42222"/>
<circle cx="418.8" cy="171.1" r="2.4" fill="#b83a3a"/>
<circle cx="418.8" cy="193.9" r="2.4" fill="#b83a3a"/>
<circle cx="442.0" cy="159.7" r="1.7" fill="#d42222"/>
<circle cx="442.0" cy="182.4" r="1.7" fill="#d42222"/>
<circle cx="442.0" cy="205.4" r="1.7" fill="#d42222"/>
<circle cx="442.0" cy="171.1" r="2.4" fill="#b83a3a"/>
<circle cx="442.0" cy="193.9" r="2.4" fill="#b83a3a"/>
<circle cx="465.2" cy="159.7" r="1.7" fill="#d42222"/>
<circle cx="465.2" cy="182.4" r="1.7" fill="#d42222"/>
<circle cx="465.2" cy="205.4" r="1.7" fill="#d42222"/>
<circle cx="465.2" cy="171.1" r="2.4" fill="#b83a3a"/>
<circle cx="465.2" cy="193.9" r="2.4" fill="#b83a3a"/>
<circle cx="360.8" cy="171.1" r="1.7" fill="#d42222"/>
<circle cx="360.8" cy="193.9" r="1.7" fill="#d42222"/>
<circle cx="384.0" cy="171.1" r="1.7" fill="#d42222"/>
<circle cx="384.0" cy="193.9" r="1.7" fill="#d42222"/>
<circle cx="453.6" cy="171.1" r="1.7" fill="#d42222"/>
<circle cx="453.6" cy="193.9" r="1.7" fill="#d42222"/>
<circle cx="476.8" cy="171.1" r="1.7" fill="#d42222"/>
<circle cx="476.8" cy="193.9" r="1.7" fill="#d42222"/>
<circle cx="360.8" cy="159.7" r="3.0" fill="#e8e8e8" stroke="#43434a" stroke-width="2.5"/>
<circle cx="360.8" cy="182.4" r="3.0" fill="#e8e8e8" stroke="#43434a" stroke-width="2.5"/>
<circle cx="360.8" cy="205.4" r="3.0" fill="#e8e8e8" stroke="#43434a" stroke-width="2.5"/>
<circle cx="384.0" cy="159.7" r="3.0" fill="#e8e8e8" stroke="#43434a" stroke-width="2.5"/>
<circle cx="384.0" cy="182.4" r="3.0" fill="#e8e8e8" stroke="#43434a" stroke-width="2.5"/>
<circle cx="384.0" cy="205.4" r="3.0" fill="#e8e8e8" stroke="#43434a" stroke-width="2.5"/>
<circle cx="407.2" cy="159.7" r="3.0" fill="#e8e8e8" stroke="#43434a" stroke-width="2.5"/>
<circle cx="407.2" cy="182.4" r="3.0" fill="#e8e8e8" stroke="#43434a" stroke-width="2.5"/>
<circle cx="407.2" cy="205.4" r="3.0" fill="#e8e8e8" stroke="#43434a" stroke-width="2.5"/>
<circle cx="430.4" cy="159.7" r="3.0" fill="#e8e8e8" stroke="#43434a" stroke-width="2.5"/>
<circle cx="430.4" cy="182.4" r="3.0" fill="#e8e8e8" stroke="#43434a" stroke-width="2.5"/>
<circle cx="430.4" cy="205.4" r="3.0" fill="#e8e8e8" stroke="#43434a" stroke-width="2.5"/>
<circle cx="453.6" cy="159.7" r="3.0" fill="#e8e8e8" stroke="#43434a" stroke-width="2.5"/>
<circle cx="453.6" cy="182.4" r="3.0" fill="#e8e8e8" stroke="#43434a" stroke-width="2.5"/>
<circle cx="453.6" cy="205.4" r="3.0" fill="#e8e8e8" stroke="#43434a" stroke-width="2.5"/>
<circle cx="476.8" cy="159.7" r="3.0" fill="#e8e8e8" stroke="#43434a" stroke-width="2.5"/>
<circle cx="476.8" cy="182.4" r="3.0" fill="#e8e8e8" stroke="#43434a" stroke-width="2.5"/>
<circle cx="476.8" cy="205.4" r="3.0" fill="#e8e8e8" stroke="#43434a" stroke-width="2.5"/>
<text x="384.5" y="235" font-size="19" fill="#1f6eb4" font-weight="bold" textLength="71" lengthAdjust="spacingAndGlyphs">PMN-PT</text>
<line x1="542.2" y1="38.0" x2="665.4" y2="38.0" stroke="#cc2e2e" stroke-width="1.2"/>
<line x1="542.2" y1="62.3" x2="665.4" y2="62.3" stroke="#cc2e2e" stroke-width="1.2"/>
<line x1="542.2" y1="38.0" x2="542.2" y2="62.3" stroke="#9a3232" stroke-width="1.1"/>
<line x1="566.8" y1="38.0" x2="566.8" y2="62.3" stroke="#9a3232" stroke-width="1.1"/>
<line x1="591.5" y1="38.0" x2="591.5" y2="62.3" stroke="#9a3232" stroke-width="1.1"/>
<line x1="616.1" y1="38.0" x2="616.1" y2="62.3" stroke="#9a3232" stroke-width="1.1"/>
<line x1="640.8" y1="38.0" x2="640.8" y2="62.3" stroke="#9a3232" stroke-width="1.1"/>
<line x1="665.4" y1="38.0" x2="665.4" y2="62.3" stroke="#9a3232" stroke-width="1.1"/>
<line x1="554.5" y1="50.1" x2="554.5" y2="44.1" stroke="#b9b4e2" stroke-width="1.2"/>
<line x1="554.5" y1="44.1" x2="554.5" y2="38.0" stroke="#cc2e2e" stroke-width="1.2"/>
<line x1="554.5" y1="50.1" x2="554.5" y2="56.2" stroke="#b9b4e2" stroke-width="1.2"/>
<line x1="554.5" y1="56.2" x2="554.5" y2="62.3" stroke="#cc2e2e" stroke-width="1.2"/>
<line x1="554.5" y1="50.1" x2="548.4" y2="50.1" stroke="#b9b4e2" stroke-width="1.2"/>
<line x1="548.4" y1="50.1" x2="542.2" y2="50.1" stroke="#cc2e2e" stroke-width="1.2"/>
<line x1="554.5" y1="50.1" x2="560.7" y2="50.1" stroke="#b9b4e2" stroke-width="1.2"/>
<line x1="560.7" y1="50.1" x2="566.8" y2="50.1" stroke="#cc2e2e" stroke-width="1.2"/>
<line x1="542.2" y1="38.0" x2="548.4" y2="44.1" stroke="#62c862" stroke-width="1.1"/>
<line x1="548.4" y1="44.1" x2="554.5" y2="50.1" stroke="#b84646" stroke-width="1.2"/>
<line x1="566.8" y1="38.0" x2="560.7" y2="44.1" stroke="#62c862" stroke-width="1.1"/>
<line x1="560.7" y1="44.1" x2="554.5" y2="50.1" stroke="#b84646" stroke-width="1.2"/>
<line x1="542.2" y1="62.3" x2="548.4" y2="56.2" stroke="#62c862" stroke-width="1.1"/>
<line x1="548.4" y1="56.2" x2="554.5" y2="50.1" stroke="#b84646" stroke-width="1.2"/>
<line x1="566.8" y1="62.3" x2="560.7" y2="56.2" stroke="#62c862" stroke-width="1.1"/>
<line x1="560.7" y1="56.2" x2="554.5" y2="50.1" stroke="#b84646" stroke-width="1.2"/>
<line x1="579.2" y1="50.1" x2="579.2" y2="44.1" stroke="#b9b4e2" stroke-width="1.2"/>
<line x1="579.2" y1="44.1" x2="579.2" y2="38.0" stroke="#cc2e2e" stroke-width="1.2"/>
<line x1="579.2" y1="50.1" x2="579.2" y2="56.2" stroke="#b9b4e2" stroke-width="1.2"/>
<line x1="579.2" y1="56.2" x2="579.2" y2="62.3" stroke="#cc2e2e" stroke-width="1.2"/>
<line x1="579.2" y1="50.1" x2="573.0" y2="50.1" stroke="#b9b4e2" stroke-width="1.2"/>
<line x1="573.0" y1="50.1" x2="566.8" y2="50.1" stroke="#cc2e2e" stroke-width="1.2"/>
<line x1="579.2" y1="50.1" x2="585.3" y2="50.1" stroke="#b9b4e2" stroke-width="1.2"/>
<line x1="585.3" y1="50.1" x2="591.5" y2="50.1" stroke="#cc2e2e" stroke-width="1.2"/>
<line x1="566.8" y1="38.0" x2="573.0" y2="44.1" stroke="#62c862" stroke-width="1.1"/>
<line x1="573.0" y1="44.1" x2="579.2" y2="50.1" stroke="#b84646" stroke-width="1.2"/>
<line x1="591.5" y1="38.0" x2="585.3" y2="44.1" stroke="#62c862" stroke-width="1.1"/>
<line x1="585.3" y1="44.1" x2="579.2" y2="50.1" stroke="#b84646" stroke-width="1.2"/>
<line x1="566.8" y1="62.3" x2="573.0" y2="56.2" stroke="#62c862" stroke-width="1.1"/>
<line x1="573.0" y1="56.2" x2="579.2" y2="50.1" stroke="#b84646" stroke-width="1.2"/>
<line x1="591.5" y1="62.3" x2="585.3" y2="56.2" stroke="#62c862" stroke-width="1.1"/>
<line x1="585.3" y1="56.2" x2="579.2" y2="50.1" stroke="#b84646" stroke-width="1.2"/>
<line x1="603.8" y1="50.1" x2="603.8" y2="44.1" stroke="#b9b4e2" stroke-width="1.2"/>
<line x1="603.8" y1="44.1" x2="603.8" y2="38.0" stroke="#cc2e2e" stroke-width="1.2"/>
<line x1="603.8" y1="50.1" x2="603.8" y2="56.2" stroke="#b9b4e2" stroke-width="1.2"/>
<line x1="603.8" y1="56.2" x2="603.8" y2="62.3" stroke="#cc2e2e" stroke-width="1.2"/>
<line x1="603.8" y1="50.1" x2="597.6" y2="50.1" stroke="#b9b4e2" stroke-width="1.2"/>
<line x1="597.6" y1="50.1" x2="591.5" y2="50.1" stroke="#cc2e2e" stroke-width="1.2"/>
<line x1="603.8" y1="50.1" x2="610.0" y2="50.1" stroke="#b9b4e2" stroke-width="1.2"/>
<line x1="610.0" y1="50.1" x2="616.1" y2="50.1" stroke="#cc2e2e" stroke-width="1.2"/>
<line x1="591.5" y1="38.0" x2="597.6" y2="44.1" stroke="#62c862" stroke-width="1.1"/>
<line x1="597.6" y1="44.1" x2="603.8" y2="50.1" stroke="#b84646" stroke-width="1.2"/>
<line x1="616.1" y1="38.0" x2="610.0" y2="44.1" stroke="#62c862" stroke-width="1.1"/>
<line x1="610.0" y1="44.1" x2="603.8" y2="50.1" stroke="#b84646" stroke-width="1.2"/>
<line x1="591.5" y1="62.3" x2="597.6" y2="56.2" stroke="#62c862" stroke-width="1.1"/>
<line x1="597.6" y1="56.2" x2="603.8" y2="50.1" stroke="#b84646" stroke-width="1.2"/>
<line x1="616.1" y1="62.3" x2="610.0" y2="56.2" stroke="#62c862" stroke-width="1.1"/>
<line x1="610.0" y1="56.2" x2="603.8" y2="50.1" stroke="#b84646" stroke-width="1.2"/>
<line x1="628.4" y1="50.1" x2="628.4" y2="44.1" stroke="#b9b4e2" stroke-width="1.2"/>
<line x1="628.4" y1="44.1" x2="628.4" y2="38.0" stroke="#cc2e2e" stroke-width="1.2"/>
<line x1="628.4" y1="50.1" x2="628.4" y2="56.2" stroke="#b9b4e2" stroke-width="1.2"/>
<line x1="628.4" y1="56.2" x2="628.4" y2="62.3" stroke="#cc2e2e" stroke-width="1.2"/>
<line x1="628.4" y1="50.1" x2="622.3" y2="50.1" stroke="#b9b4e2" stroke-width="1.2"/>
<line x1="622.3" y1="50.1" x2="616.1" y2="50.1" stroke="#cc2e2e" stroke-width="1.2"/>
<line x1="628.4" y1="50.1" x2="634.6" y2="50.1" stroke="#b9b4e2" stroke-width="1.2"/>
<line x1="634.6" y1="50.1" x2="640.8" y2="50.1" stroke="#cc2e2e" stroke-width="1.2"/>
<line x1="616.1" y1="38.0" x2="622.3" y2="44.1" stroke="#62c862" stroke-width="1.1"/>
<line x1="622.3" y1="44.1" x2="628.4" y2="50.1" stroke="#b84646" stroke-width="1.2"/>
<line x1="640.8" y1="38.0" x2="634.6" y2="44.1" stroke="#62c862" stroke-width="1.1"/>
<line x1="634.6" y1="44.1" x2="628.4" y2="50.1" stroke="#b84646" stroke-width="1.2"/>
<line x1="616.1" y1="62.3" x2="622.3" y2="56.2" stroke="#62c862" stroke-width="1.1"/>
<line x1="622.3" y1="56.2" x2="628.4" y2="50.1" stroke="#b84646" stroke-width="1.2"/>
<line x1="640.8" y1="62.3" x2="634.6" y2="56.2" stroke="#62c862" stroke-width="1.1"/>
<line x1="634.6" y1="56.2" x2="628.4" y2="50.1" stroke="#b84646" stroke-width="1.2"/>
<line x1="653.1" y1="50.1" x2="653.1" y2="44.1" stroke="#b9b4e2" stroke-width="1.2"/>
<line x1="653.1" y1="44.1" x2="653.1" y2="38.0" stroke="#cc2e2e" stroke-width="1.2"/>
<line x1="653.1" y1="50.1" x2="653.1" y2="56.2" stroke="#b9b4e2" stroke-width="1.2"/>
<line x1="653.1" y1="56.2" x2="653.1" y2="62.3" stroke="#cc2e2e" stroke-width="1.2"/>
<line x1="653.1" y1="50.1" x2="646.9" y2="50.1" stroke="#b9b4e2" stroke-width="1.2"/>
<line x1="646.9" y1="50.1" x2="640.8" y2="50.1" stroke="#cc2e2e" stroke-width="1.2"/>
<line x1="653.1" y1="50.1" x2="659.2" y2="50.1" stroke="#b9b4e2" stroke-width="1.2"/>
<line x1="659.2" y1="50.1" x2="665.4" y2="50.1" stroke="#cc2e2e" stroke-width="1.2"/>
<line x1="640.8" y1="38.0" x2="646.9" y2="44.1" stroke="#62c862" stroke-width="1.1"/>
<line x1="646.9" y1="44.1" x2="653.1" y2="50.1" stroke="#b84646" stroke-width="1.2"/>
<line x1="665.4" y1="38.0" x2="659.2" y2="44.1" stroke="#62c862" stroke-width="1.1"/>
<line x1="659.2" y1="44.1" x2="653.1" y2="50.1" stroke="#b84646" stroke-width="1.2"/>
<line x1="640.8" y1="62.3" x2="646.9" y2="56.2" stroke="#62c862" stroke-width="1.1"/>
<line x1="646.9" y1="56.2" x2="653.1" y2="50.1" stroke="#b84646" stroke-width="1.2"/>
<line x1="665.4" y1="62.3" x2="659.2" y2="56.2" stroke="#62c862" stroke-width="1.1"/>
<line x1="659.2" y1="56.2" x2="653.1" y2="50.1" stroke="#b84646" stroke-width="1.2"/>
<circle cx="554.5" cy="38.0" r="1.5" fill="#d82424"/>
<circle cx="554.5" cy="62.3" r="1.5" fill="#d82424"/>
<circle cx="554.5" cy="50.1" r="1.9" fill="#c85a5a"/>
<circle cx="554.5" cy="50.1" r="0.9" fill="#f4c4c0"/>
<circle cx="579.2" cy="38.0" r="1.5" fill="#d82424"/>
<circle cx="579.2" cy="62.3" r="1.5" fill="#d82424"/>
<circle cx="579.2" cy="50.1" r="1.9" fill="#c85a5a"/>
<circle cx="579.2" cy="50.1" r="0.9" fill="#f4c4c0"/>
<circle cx="603.8" cy="38.0" r="1.5" fill="#d82424"/>
<circle cx="603.8" cy="62.3" r="1.5" fill="#d82424"/>
<circle cx="603.8" cy="50.1" r="1.9" fill="#c85a5a"/>
<circle cx="603.8" cy="50.1" r="0.9" fill="#f4c4c0"/>
<circle cx="628.4" cy="38.0" r="1.5" fill="#d82424"/>
<circle cx="628.4" cy="62.3" r="1.5" fill="#d82424"/>
<circle cx="628.4" cy="50.1" r="1.9" fill="#c85a5a"/>
<circle cx="628.4" cy="50.1" r="0.9" fill="#f4c4c0"/>
<circle cx="653.1" cy="38.0" r="1.5" fill="#d82424"/>
<circle cx="653.1" cy="62.3" r="1.5" fill="#d82424"/>
<circle cx="653.1" cy="50.1" r="1.9" fill="#c85a5a"/>
<circle cx="653.1" cy="50.1" r="0.9" fill="#f4c4c0"/>
<circle cx="542.2" cy="50.1" r="1.4" fill="#d82424"/>
<circle cx="566.8" cy="50.1" r="1.4" fill="#d82424"/>
<circle cx="591.5" cy="50.1" r="1.4" fill="#d82424"/>
<circle cx="616.1" cy="50.1" r="1.4" fill="#d82424"/>
<circle cx="640.8" cy="50.1" r="1.4" fill="#d82424"/>
<circle cx="665.4" cy="50.1" r="1.4" fill="#d82424"/>
<circle cx="542.2" cy="38.0" r="5.6" fill="url(#gBa)"/>
<circle cx="542.2" cy="62.3" r="5.6" fill="url(#gBa)"/>
<circle cx="566.8" cy="38.0" r="5.6" fill="url(#gBa)"/>
<circle cx="566.8" cy="62.3" r="5.6" fill="url(#gBa)"/>
<circle cx="591.5" cy="38.0" r="5.6" fill="url(#gBa)"/>
<circle cx="591.5" cy="62.3" r="5.6" fill="url(#gBa)"/>
<circle cx="616.1" cy="38.0" r="5.6" fill="url(#gBa)"/>
<circle cx="616.1" cy="62.3" r="5.6" fill="url(#gBa)"/>
<circle cx="640.8" cy="38.0" r="5.6" fill="url(#gBa)"/>
<circle cx="640.8" cy="62.3" r="5.6" fill="url(#gBa)"/>
<circle cx="665.4" cy="38.0" r="5.6" fill="url(#gBa)"/>
<circle cx="665.4" cy="62.3" r="5.6" fill="url(#gBa)"/>
<line x1="545.5" y1="81.3" x2="551.4" y2="81.3" stroke="#8a6a96" stroke-width="1.1"/>
<line x1="551.4" y1="81.3" x2="557.2" y2="81.3" stroke="#cc2a2a" stroke-width="1.1"/>
<line x1="568.9" y1="81.3" x2="563.1" y2="81.3" stroke="#8a6a96" stroke-width="1.1"/>
<line x1="563.1" y1="81.3" x2="557.2" y2="81.3" stroke="#cc2a2a" stroke-width="1.1"/>
<line x1="568.9" y1="81.3" x2="574.8" y2="81.3" stroke="#8a6a96" stroke-width="1.1"/>
<line x1="574.8" y1="81.3" x2="580.7" y2="81.3" stroke="#cc2a2a" stroke-width="1.1"/>
<line x1="592.4" y1="81.3" x2="586.5" y2="81.3" stroke="#8a6a96" stroke-width="1.1"/>
<line x1="586.5" y1="81.3" x2="580.7" y2="81.3" stroke="#cc2a2a" stroke-width="1.1"/>
<line x1="592.4" y1="81.3" x2="598.2" y2="81.3" stroke="#8a6a96" stroke-width="1.1"/>
<line x1="598.2" y1="81.3" x2="604.1" y2="81.3" stroke="#cc2a2a" stroke-width="1.1"/>
<line x1="615.8" y1="81.3" x2="610.0" y2="81.3" stroke="#8a6a96" stroke-width="1.1"/>
<line x1="610.0" y1="81.3" x2="604.1" y2="81.3" stroke="#cc2a2a" stroke-width="1.1"/>
<line x1="615.8" y1="81.3" x2="621.7" y2="81.3" stroke="#8a6a96" stroke-width="1.1"/>
<line x1="621.7" y1="81.3" x2="627.5" y2="81.3" stroke="#cc2a2a" stroke-width="1.1"/>
<line x1="639.3" y1="81.3" x2="633.4" y2="81.3" stroke="#8a6a96" stroke-width="1.1"/>
<line x1="633.4" y1="81.3" x2="627.5" y2="81.3" stroke="#cc2a2a" stroke-width="1.1"/>
<line x1="639.3" y1="81.3" x2="645.1" y2="81.3" stroke="#8a6a96" stroke-width="1.1"/>
<line x1="645.1" y1="81.3" x2="651.0" y2="81.3" stroke="#cc2a2a" stroke-width="1.1"/>
<line x1="662.7" y1="81.3" x2="656.8" y2="81.3" stroke="#8a6a96" stroke-width="1.1"/>
<line x1="656.8" y1="81.3" x2="651.0" y2="81.3" stroke="#cc2a2a" stroke-width="1.1"/>
<line x1="545.5" y1="104.5" x2="551.4" y2="104.5" stroke="#8a6a96" stroke-width="1.1"/>
<line x1="551.4" y1="104.5" x2="557.2" y2="104.5" stroke="#cc2a2a" stroke-width="1.1"/>
<line x1="568.9" y1="104.5" x2="563.1" y2="104.5" stroke="#8a6a96" stroke-width="1.1"/>
<line x1="563.1" y1="104.5" x2="557.2" y2="104.5" stroke="#cc2a2a" stroke-width="1.1"/>
<line x1="568.9" y1="104.5" x2="574.8" y2="104.5" stroke="#8a6a96" stroke-width="1.1"/>
<line x1="574.8" y1="104.5" x2="580.7" y2="104.5" stroke="#cc2a2a" stroke-width="1.1"/>
<line x1="592.4" y1="104.5" x2="586.5" y2="104.5" stroke="#8a6a96" stroke-width="1.1"/>
<line x1="586.5" y1="104.5" x2="580.7" y2="104.5" stroke="#cc2a2a" stroke-width="1.1"/>
<line x1="592.4" y1="104.5" x2="598.2" y2="104.5" stroke="#8a6a96" stroke-width="1.1"/>
<line x1="598.2" y1="104.5" x2="604.1" y2="104.5" stroke="#cc2a2a" stroke-width="1.1"/>
<line x1="615.8" y1="104.5" x2="610.0" y2="104.5" stroke="#8a6a96" stroke-width="1.1"/>
<line x1="610.0" y1="104.5" x2="604.1" y2="104.5" stroke="#cc2a2a" stroke-width="1.1"/>
<line x1="615.8" y1="104.5" x2="621.7" y2="104.5" stroke="#8a6a96" stroke-width="1.1"/>
<line x1="621.7" y1="104.5" x2="627.5" y2="104.5" stroke="#cc2a2a" stroke-width="1.1"/>
<line x1="639.3" y1="104.5" x2="633.4" y2="104.5" stroke="#8a6a96" stroke-width="1.1"/>
<line x1="633.4" y1="104.5" x2="627.5" y2="104.5" stroke="#cc2a2a" stroke-width="1.1"/>
<line x1="639.3" y1="104.5" x2="645.1" y2="104.5" stroke="#8a6a96" stroke-width="1.1"/>
<line x1="645.1" y1="104.5" x2="651.0" y2="104.5" stroke="#cc2a2a" stroke-width="1.1"/>
<line x1="662.7" y1="104.5" x2="656.8" y2="104.5" stroke="#8a6a96" stroke-width="1.1"/>
<line x1="656.8" y1="104.5" x2="651.0" y2="104.5" stroke="#cc2a2a" stroke-width="1.1"/>
<line x1="545.5" y1="127.7" x2="551.4" y2="127.7" stroke="#8a6a96" stroke-width="1.1"/>
<line x1="551.4" y1="127.7" x2="557.2" y2="127.7" stroke="#cc2a2a" stroke-width="1.1"/>
<line x1="568.9" y1="127.7" x2="563.1" y2="127.7" stroke="#8a6a96" stroke-width="1.1"/>
<line x1="563.1" y1="127.7" x2="557.2" y2="127.7" stroke="#cc2a2a" stroke-width="1.1"/>
<line x1="568.9" y1="127.7" x2="574.8" y2="127.7" stroke="#8a6a96" stroke-width="1.1"/>
<line x1="574.8" y1="127.7" x2="580.7" y2="127.7" stroke="#cc2a2a" stroke-width="1.1"/>
<line x1="592.4" y1="127.7" x2="586.5" y2="127.7" stroke="#8a6a96" stroke-width="1.1"/>
<line x1="586.5" y1="127.7" x2="580.7" y2="127.7" stroke="#cc2a2a" stroke-width="1.1"/>
<line x1="592.4" y1="127.7" x2="598.2" y2="127.7" stroke="#8a6a96" stroke-width="1.1"/>
<line x1="598.2" y1="127.7" x2="604.1" y2="127.7" stroke="#cc2a2a" stroke-width="1.1"/>
<line x1="615.8" y1="127.7" x2="610.0" y2="127.7" stroke="#8a6a96" stroke-width="1.1"/>
<line x1="610.0" y1="127.7" x2="604.1" y2="127.7" stroke="#cc2a2a" stroke-width="1.1"/>
<line x1="615.8" y1="127.7" x2="621.7" y2="127.7" stroke="#8a6a96" stroke-width="1.1"/>
<line x1="621.7" y1="127.7" x2="627.5" y2="127.7" stroke="#cc2a2a" stroke-width="1.1"/>
<line x1="639.3" y1="127.7" x2="633.4" y2="127.7" stroke="#8a6a96" stroke-width="1.1"/>
<line x1="633.4" y1="127.7" x2="627.5" y2="127.7" stroke="#cc2a2a" stroke-width="1.1"/>
<line x1="639.3" y1="127.7" x2="645.1" y2="127.7" stroke="#8a6a96" stroke-width="1.1"/>
<line x1="645.1" y1="127.7" x2="651.0" y2="127.7" stroke="#cc2a2a" stroke-width="1.1"/>
<line x1="662.7" y1="127.7" x2="656.8" y2="127.7" stroke="#8a6a96" stroke-width="1.1"/>
<line x1="656.8" y1="127.7" x2="651.0" y2="127.7" stroke="#cc2a2a" stroke-width="1.1"/>
<line x1="545.5" y1="81.3" x2="545.5" y2="87.1" stroke="#5a4660" stroke-width="1.1"/>
<line x1="545.5" y1="87.1" x2="545.5" y2="92.9" stroke="#cc2a2a" stroke-width="1.1"/>
<line x1="545.5" y1="104.5" x2="545.5" y2="98.7" stroke="#5a4660" stroke-width="1.1"/>
<line x1="545.5" y1="98.7" x2="545.5" y2="92.9" stroke="#cc2a2a" stroke-width="1.1"/>
<line x1="545.5" y1="104.5" x2="545.5" y2="110.3" stroke="#5a4660" stroke-width="1.1"/>
<line x1="545.5" y1="110.3" x2="545.5" y2="116.1" stroke="#cc2a2a" stroke-width="1.1"/>
<line x1="545.5" y1="127.7" x2="545.5" y2="121.9" stroke="#5a4660" stroke-width="1.1"/>
<line x1="545.5" y1="121.9" x2="545.5" y2="116.1" stroke="#cc2a2a" stroke-width="1.1"/>
<line x1="568.9" y1="81.3" x2="568.9" y2="87.1" stroke="#5a4660" stroke-width="1.1"/>
<line x1="568.9" y1="87.1" x2="568.9" y2="92.9" stroke="#cc2a2a" stroke-width="1.1"/>
<line x1="568.9" y1="104.5" x2="568.9" y2="98.7" stroke="#5a4660" stroke-width="1.1"/>
<line x1="568.9" y1="98.7" x2="568.9" y2="92.9" stroke="#cc2a2a" stroke-width="1.1"/>
<line x1="568.9" y1="104.5" x2="568.9" y2="110.3" stroke="#5a4660" stroke-width="1.1"/>
<line x1="568.9" y1="110.3" x2="568.9" y2="116.1" stroke="#cc2a2a" stroke-width="1.1"/>
<line x1="568.9" y1="127.7" x2="568.9" y2="121.9" stroke="#5a4660" stroke-width="1.1"/>
<line x1="568.9" y1="121.9" x2="568.9" y2="116.1" stroke="#cc2a2a" stroke-width="1.1"/>
<line x1="592.4" y1="81.3" x2="592.4" y2="87.1" stroke="#5a4660" stroke-width="1.1"/>
<line x1="592.4" y1="87.1" x2="592.4" y2="92.9" stroke="#cc2a2a" stroke-width="1.1"/>
<line x1="592.4" y1="104.5" x2="592.4" y2="98.7" stroke="#5a4660" stroke-width="1.1"/>
<line x1="592.4" y1="98.7" x2="592.4" y2="92.9" stroke="#cc2a2a" stroke-width="1.1"/>
<line x1="592.4" y1="104.5" x2="592.4" y2="110.3" stroke="#5a4660" stroke-width="1.1"/>
<line x1="592.4" y1="110.3" x2="592.4" y2="116.1" stroke="#cc2a2a" stroke-width="1.1"/>
<line x1="592.4" y1="127.7" x2="592.4" y2="121.9" stroke="#5a4660" stroke-width="1.1"/>
<line x1="592.4" y1="121.9" x2="592.4" y2="116.1" stroke="#cc2a2a" stroke-width="1.1"/>
<line x1="615.8" y1="81.3" x2="615.8" y2="87.1" stroke="#5a4660" stroke-width="1.1"/>
<line x1="615.8" y1="87.1" x2="615.8" y2="92.9" stroke="#cc2a2a" stroke-width="1.1"/>
<line x1="615.8" y1="104.5" x2="615.8" y2="98.7" stroke="#5a4660" stroke-width="1.1"/>
<line x1="615.8" y1="98.7" x2="615.8" y2="92.9" stroke="#cc2a2a" stroke-width="1.1"/>
<line x1="615.8" y1="104.5" x2="615.8" y2="110.3" stroke="#5a4660" stroke-width="1.1"/>
<line x1="615.8" y1="110.3" x2="615.8" y2="116.1" stroke="#cc2a2a" stroke-width="1.1"/>
<line x1="615.8" y1="127.7" x2="615.8" y2="121.9" stroke="#5a4660" stroke-width="1.1"/>
<line x1="615.8" y1="121.9" x2="615.8" y2="116.1" stroke="#cc2a2a" stroke-width="1.1"/>
<line x1="639.3" y1="81.3" x2="639.3" y2="87.1" stroke="#5a4660" stroke-width="1.1"/>
<line x1="639.3" y1="87.1" x2="639.3" y2="92.9" stroke="#cc2a2a" stroke-width="1.1"/>
<line x1="639.3" y1="104.5" x2="639.3" y2="98.7" stroke="#5a4660" stroke-width="1.1"/>
<line x1="639.3" y1="98.7" x2="639.3" y2="92.9" stroke="#cc2a2a" stroke-width="1.1"/>
<line x1="639.3" y1="104.5" x2="639.3" y2="110.3" stroke="#5a4660" stroke-width="1.1"/>
<line x1="639.3" y1="110.3" x2="639.3" y2="116.1" stroke="#cc2a2a" stroke-width="1.1"/>
<line x1="639.3" y1="127.7" x2="639.3" y2="121.9" stroke="#5a4660" stroke-width="1.1"/>
<line x1="639.3" y1="121.9" x2="639.3" y2="116.1" stroke="#cc2a2a" stroke-width="1.1"/>
<line x1="662.7" y1="81.3" x2="662.7" y2="87.1" stroke="#5a4660" stroke-width="1.1"/>
<line x1="662.7" y1="87.1" x2="662.7" y2="92.9" stroke="#cc2a2a" stroke-width="1.1"/>
<line x1="662.7" y1="104.5" x2="662.7" y2="98.7" stroke="#5a4660" stroke-width="1.1"/>
<line x1="662.7" y1="98.7" x2="662.7" y2="92.9" stroke="#cc2a2a" stroke-width="1.1"/>
<line x1="662.7" y1="104.5" x2="662.7" y2="110.3" stroke="#5a4660" stroke-width="1.1"/>
<line x1="662.7" y1="110.3" x2="662.7" y2="116.1" stroke="#cc2a2a" stroke-width="1.1"/>
<line x1="662.7" y1="127.7" x2="662.7" y2="121.9" stroke="#5a4660" stroke-width="1.1"/>
<line x1="662.7" y1="121.9" x2="662.7" y2="116.1" stroke="#cc2a2a" stroke-width="1.1"/>
<line x1="557.2" y1="92.9" x2="557.2" y2="87.1" stroke="#a9c6c6" stroke-width="1.1"/>
<line x1="557.2" y1="87.1" x2="557.2" y2="81.3" stroke="#cc2a2a" stroke-width="1.1"/>
<line x1="557.2" y1="92.9" x2="557.2" y2="98.7" stroke="#a9c6c6" stroke-width="1.1"/>
<line x1="557.2" y1="98.7" x2="557.2" y2="104.5" stroke="#cc2a2a" stroke-width="1.1"/>
<line x1="557.2" y1="92.9" x2="551.4" y2="92.9" stroke="#a9c6c6" stroke-width="1.1"/>
<line x1="551.4" y1="92.9" x2="545.5" y2="92.9" stroke="#cc2a2a" stroke-width="1.1"/>
<line x1="557.2" y1="92.9" x2="563.1" y2="92.9" stroke="#a9c6c6" stroke-width="1.1"/>
<line x1="563.1" y1="92.9" x2="568.9" y2="92.9" stroke="#cc2a2a" stroke-width="1.1"/>
<line x1="545.5" y1="81.3" x2="551.4" y2="87.1" stroke="#8a6a96" stroke-width="1.1"/>
<line x1="551.4" y1="87.1" x2="557.2" y2="92.9" stroke="#a03462" stroke-width="1.1"/>
<line x1="568.9" y1="81.3" x2="563.1" y2="87.1" stroke="#8a6a96" stroke-width="1.1"/>
<line x1="563.1" y1="87.1" x2="557.2" y2="92.9" stroke="#a03462" stroke-width="1.1"/>
<line x1="545.5" y1="104.5" x2="551.4" y2="98.7" stroke="#8a6a96" stroke-width="1.1"/>
<line x1="551.4" y1="98.7" x2="557.2" y2="92.9" stroke="#a03462" stroke-width="1.1"/>
<line x1="568.9" y1="104.5" x2="563.1" y2="98.7" stroke="#8a6a96" stroke-width="1.1"/>
<line x1="563.1" y1="98.7" x2="557.2" y2="92.9" stroke="#a03462" stroke-width="1.1"/>
<line x1="557.2" y1="116.1" x2="557.2" y2="110.3" stroke="#a9c6c6" stroke-width="1.1"/>
<line x1="557.2" y1="110.3" x2="557.2" y2="104.5" stroke="#cc2a2a" stroke-width="1.1"/>
<line x1="557.2" y1="116.1" x2="557.2" y2="121.9" stroke="#a9c6c6" stroke-width="1.1"/>
<line x1="557.2" y1="121.9" x2="557.2" y2="127.7" stroke="#cc2a2a" stroke-width="1.1"/>
<line x1="557.2" y1="116.1" x2="551.4" y2="116.1" stroke="#a9c6c6" stroke-width="1.1"/>
<line x1="551.4" y1="116.1" x2="545.5" y2="116.1" stroke="#cc2a2a" stroke-width="1.1"/>
<line x1="557.2" y1="116.1" x2="563.1" y2="116.1" stroke="#a9c6c6" stroke-width="1.1"/>
<line x1="563.1" y1="116.1" x2="568.9" y2="116.1" stroke="#cc2a2a" stroke-width="1.1"/>
<line x1="545.5" y1="104.5" x2="551.4" y2="110.3" stroke="#8a6a96" stroke-width="1.1"/>
<line x1="551.4" y1="110.3" x2="557.2" y2="116.1" stroke="#a03462" stroke-width="1.1"/>
<line x1="568.9" y1="104.5" x2="563.1" y2="110.3" stroke="#8a6a96" stroke-width="1.1"/>
<line x1="563.1" y1="110.3" x2="557.2" y2="116.1" stroke="#a03462" stroke-width="1.1"/>
<line x1="545.5" y1="127.7" x2="551.4" y2="121.9" stroke="#8a6a96" stroke-width="1.1"/>
<line x1="551.4" y1="121.9" x2="557.2" y2="116.1" stroke="#a03462" stroke-width="1.1"/>
<line x1="568.9" y1="127.7" x2="563.1" y2="121.9" stroke="#8a6a96" stroke-width="1.1"/>
<line x1="563.1" y1="121.9" x2="557.2" y2="116.1" stroke="#a03462" stroke-width="1.1"/>
<line x1="580.7" y1="92.9" x2="580.7" y2="87.1" stroke="#a9c6c6" stroke-width="1.1"/>
<line x1="580.7" y1="87.1" x2="580.7" y2="81.3" stroke="#cc2a2a" stroke-width="1.1"/>
<line x1="580.7" y1="92.9" x2="580.7" y2="98.7" stroke="#a9c6c6" stroke-width="1.1"/>
<line x1="580.7" y1="98.7" x2="580.7" y2="104.5" stroke="#cc2a2a" stroke-width="1.1"/>
<line x1="580.7" y1="92.9" x2="574.8" y2="92.9" stroke="#a9c6c6" stroke-width="1.1"/>
<line x1="574.8" y1="92.9" x2="568.9" y2="92.9" stroke="#cc2a2a" stroke-width="1.1"/>
<line x1="580.7" y1="92.9" x2="586.5" y2="92.9" stroke="#a9c6c6" stroke-width="1.1"/>
<line x1="586.5" y1="92.9" x2="592.4" y2="92.9" stroke="#cc2a2a" stroke-width="1.1"/>
<line x1="568.9" y1="81.3" x2="574.8" y2="87.1" stroke="#8a6a96" stroke-width="1.1"/>
<line x1="574.8" y1="87.1" x2="580.7" y2="92.9" stroke="#a03462" stroke-width="1.1"/>
<line x1="592.4" y1="81.3" x2="586.5" y2="87.1" stroke="#8a6a96" stroke-width="1.1"/>
<line x1="586.5" y1="87.1" x2="580.7" y2="92.9" stroke="#a03462" stroke-width="1.1"/>
<line x1="568.9" y1="104.5" x2="574.8" y2="98.7" stroke="#8a6a96" stroke-width="1.1"/>
<line x1="574.8" y1="98.7" x2="580.7" y2="92.9" stroke="#a03462" stroke-width="1.1"/>
<line x1="592.4" y1="104.5" x2="586.5" y2="98.7" stroke="#8a6a96" stroke-width="1.1"/>
<line x1="586.5" y1="98.7" x2="580.7" y2="92.9" stroke="#a03462" stroke-width="1.1"/>
<line x1="580.7" y1="116.1" x2="580.7" y2="110.3" stroke="#a9c6c6" stroke-width="1.1"/>
<line x1="580.7" y1="110.3" x2="580.7" y2="104.5" stroke="#cc2a2a" stroke-width="1.1"/>
<line x1="580.7" y1="116.1" x2="580.7" y2="121.9" stroke="#a9c6c6" stroke-width="1.1"/>
<line x1="580.7" y1="121.9" x2="580.7" y2="127.7" stroke="#cc2a2a" stroke-width="1.1"/>
<line x1="580.7" y1="116.1" x2="574.8" y2="116.1" stroke="#a9c6c6" stroke-width="1.1"/>
<line x1="574.8" y1="116.1" x2="568.9" y2="116.1" stroke="#cc2a2a" stroke-width="1.1"/>
<line x1="580.7" y1="116.1" x2="586.5" y2="116.1" stroke="#a9c6c6" stroke-width="1.1"/>
<line x1="586.5" y1="116.1" x2="592.4" y2="116.1" stroke="#cc2a2a" stroke-width="1.1"/>
<line x1="568.9" y1="104.5" x2="574.8" y2="110.3" stroke="#8a6a96" stroke-width="1.1"/>
<line x1="574.8" y1="110.3" x2="580.7" y2="116.1" stroke="#a03462" stroke-width="1.1"/>
<line x1="592.4" y1="104.5" x2="586.5" y2="110.3" stroke="#8a6a96" stroke-width="1.1"/>
<line x1="586.5" y1="110.3" x2="580.7" y2="116.1" stroke="#a03462" stroke-width="1.1"/>
<line x1="568.9" y1="127.7" x2="574.8" y2="121.9" stroke="#8a6a96" stroke-width="1.1"/>
<line x1="574.8" y1="121.9" x2="580.7" y2="116.1" stroke="#a03462" stroke-width="1.1"/>
<line x1="592.4" y1="127.7" x2="586.5" y2="121.9" stroke="#8a6a96" stroke-width="1.1"/>
<line x1="586.5" y1="121.9" x2="580.7" y2="116.1" stroke="#a03462" stroke-width="1.1"/>
<line x1="604.1" y1="92.9" x2="604.1" y2="87.1" stroke="#a9c6c6" stroke-width="1.1"/>
<line x1="604.1" y1="87.1" x2="604.1" y2="81.3" stroke="#cc2a2a" stroke-width="1.1"/>
<line x1="604.1" y1="92.9" x2="604.1" y2="98.7" stroke="#a9c6c6" stroke-width="1.1"/>
<line x1="604.1" y1="98.7" x2="604.1" y2="104.5" stroke="#cc2a2a" stroke-width="1.1"/>
<line x1="604.1" y1="92.9" x2="598.2" y2="92.9" stroke="#a9c6c6" stroke-width="1.1"/>
<line x1="598.2" y1="92.9" x2="592.4" y2="92.9" stroke="#cc2a2a" stroke-width="1.1"/>
<line x1="604.1" y1="92.9" x2="610.0" y2="92.9" stroke="#a9c6c6" stroke-width="1.1"/>
<line x1="610.0" y1="92.9" x2="615.8" y2="92.9" stroke="#cc2a2a" stroke-width="1.1"/>
<line x1="592.4" y1="81.3" x2="598.2" y2="87.1" stroke="#8a6a96" stroke-width="1.1"/>
<line x1="598.2" y1="87.1" x2="604.1" y2="92.9" stroke="#a03462" stroke-width="1.1"/>
<line x1="615.8" y1="81.3" x2="610.0" y2="87.1" stroke="#8a6a96" stroke-width="1.1"/>
<line x1="610.0" y1="87.1" x2="604.1" y2="92.9" stroke="#a03462" stroke-width="1.1"/>
<line x1="592.4" y1="104.5" x2="598.2" y2="98.7" stroke="#8a6a96" stroke-width="1.1"/>
<line x1="598.2" y1="98.7" x2="604.1" y2="92.9" stroke="#a03462" stroke-width="1.1"/>
<line x1="615.8" y1="104.5" x2="610.0" y2="98.7" stroke="#8a6a96" stroke-width="1.1"/>
<line x1="610.0" y1="98.7" x2="604.1" y2="92.9" stroke="#a03462" stroke-width="1.1"/>
<line x1="604.1" y1="116.1" x2="604.1" y2="110.3" stroke="#a9c6c6" stroke-width="1.1"/>
<line x1="604.1" y1="110.3" x2="604.1" y2="104.5" stroke="#cc2a2a" stroke-width="1.1"/>
<line x1="604.1" y1="116.1" x2="604.1" y2="121.9" stroke="#a9c6c6" stroke-width="1.1"/>
<line x1="604.1" y1="121.9" x2="604.1" y2="127.7" stroke="#cc2a2a" stroke-width="1.1"/>
<line x1="604.1" y1="116.1" x2="598.2" y2="116.1" stroke="#a9c6c6" stroke-width="1.1"/>
<line x1="598.2" y1="116.1" x2="592.4" y2="116.1" stroke="#cc2a2a" stroke-width="1.1"/>
<line x1="604.1" y1="116.1" x2="610.0" y2="116.1" stroke="#a9c6c6" stroke-width="1.1"/>
<line x1="610.0" y1="116.1" x2="615.8" y2="116.1" stroke="#cc2a2a" stroke-width="1.1"/>
<line x1="592.4" y1="104.5" x2="598.2" y2="110.3" stroke="#8a6a96" stroke-width="1.1"/>
<line x1="598.2" y1="110.3" x2="604.1" y2="116.1" stroke="#a03462" stroke-width="1.1"/>
<line x1="615.8" y1="104.5" x2="610.0" y2="110.3" stroke="#8a6a96" stroke-width="1.1"/>
<line x1="610.0" y1="110.3" x2="604.1" y2="116.1" stroke="#a03462" stroke-width="1.1"/>
<line x1="592.4" y1="127.7" x2="598.2" y2="121.9" stroke="#8a6a96" stroke-width="1.1"/>
<line x1="598.2" y1="121.9" x2="604.1" y2="116.1" stroke="#a03462" stroke-width="1.1"/>
<line x1="615.8" y1="127.7" x2="610.0" y2="121.9" stroke="#8a6a96" stroke-width="1.1"/>
<line x1="610.0" y1="121.9" x2="604.1" y2="116.1" stroke="#a03462" stroke-width="1.1"/>
<line x1="627.5" y1="92.9" x2="627.5" y2="87.1" stroke="#a9c6c6" stroke-width="1.1"/>
<line x1="627.5" y1="87.1" x2="627.5" y2="81.3" stroke="#cc2a2a" stroke-width="1.1"/>
<line x1="627.5" y1="92.9" x2="627.5" y2="98.7" stroke="#a9c6c6" stroke-width="1.1"/>
<line x1="627.5" y1="98.7" x2="627.5" y2="104.5" stroke="#cc2a2a" stroke-width="1.1"/>
<line x1="627.5" y1="92.9" x2="621.7" y2="92.9" stroke="#a9c6c6" stroke-width="1.1"/>
<line x1="621.7" y1="92.9" x2="615.8" y2="92.9" stroke="#cc2a2a" stroke-width="1.1"/>
<line x1="627.5" y1="92.9" x2="633.4" y2="92.9" stroke="#a9c6c6" stroke-width="1.1"/>
<line x1="633.4" y1="92.9" x2="639.3" y2="92.9" stroke="#cc2a2a" stroke-width="1.1"/>
<line x1="615.8" y1="81.3" x2="621.7" y2="87.1" stroke="#8a6a96" stroke-width="1.1"/>
<line x1="621.7" y1="87.1" x2="627.5" y2="92.9" stroke="#a03462" stroke-width="1.1"/>
<line x1="639.3" y1="81.3" x2="633.4" y2="87.1" stroke="#8a6a96" stroke-width="1.1"/>
<line x1="633.4" y1="87.1" x2="627.5" y2="92.9" stroke="#a03462" stroke-width="1.1"/>
<line x1="615.8" y1="104.5" x2="621.7" y2="98.7" stroke="#8a6a96" stroke-width="1.1"/>
<line x1="621.7" y1="98.7" x2="627.5" y2="92.9" stroke="#a03462" stroke-width="1.1"/>
<line x1="639.3" y1="104.5" x2="633.4" y2="98.7" stroke="#8a6a96" stroke-width="1.1"/>
<line x1="633.4" y1="98.7" x2="627.5" y2="92.9" stroke="#a03462" stroke-width="1.1"/>
<line x1="627.5" y1="116.1" x2="627.5" y2="110.3" stroke="#a9c6c6" stroke-width="1.1"/>
<line x1="627.5" y1="110.3" x2="627.5" y2="104.5" stroke="#cc2a2a" stroke-width="1.1"/>
<line x1="627.5" y1="116.1" x2="627.5" y2="121.9" stroke="#a9c6c6" stroke-width="1.1"/>
<line x1="627.5" y1="121.9" x2="627.5" y2="127.7" stroke="#cc2a2a" stroke-width="1.1"/>
<line x1="627.5" y1="116.1" x2="621.7" y2="116.1" stroke="#a9c6c6" stroke-width="1.1"/>
<line x1="621.7" y1="116.1" x2="615.8" y2="116.1" stroke="#cc2a2a" stroke-width="1.1"/>
<line x1="627.5" y1="116.1" x2="633.4" y2="116.1" stroke="#a9c6c6" stroke-width="1.1"/>
<line x1="633.4" y1="116.1" x2="639.3" y2="116.1" stroke="#cc2a2a" stroke-width="1.1"/>
<line x1="615.8" y1="104.5" x2="621.7" y2="110.3" stroke="#8a6a96" stroke-width="1.1"/>
<line x1="621.7" y1="110.3" x2="627.5" y2="116.1" stroke="#a03462" stroke-width="1.1"/>
<line x1="639.3" y1="104.5" x2="633.4" y2="110.3" stroke="#8a6a96" stroke-width="1.1"/>
<line x1="633.4" y1="110.3" x2="627.5" y2="116.1" stroke="#a03462" stroke-width="1.1"/>
<line x1="615.8" y1="127.7" x2="621.7" y2="121.9" stroke="#8a6a96" stroke-width="1.1"/>
<line x1="621.7" y1="121.9" x2="627.5" y2="116.1" stroke="#a03462" stroke-width="1.1"/>
<line x1="639.3" y1="127.7" x2="633.4" y2="121.9" stroke="#8a6a96" stroke-width="1.1"/>
<line x1="633.4" y1="121.9" x2="627.5" y2="116.1" stroke="#a03462" stroke-width="1.1"/>
<line x1="651.0" y1="92.9" x2="651.0" y2="87.1" stroke="#a9c6c6" stroke-width="1.1"/>
<line x1="651.0" y1="87.1" x2="651.0" y2="81.3" stroke="#cc2a2a" stroke-width="1.1"/>
<line x1="651.0" y1="92.9" x2="651.0" y2="98.7" stroke="#a9c6c6" stroke-width="1.1"/>
<line x1="651.0" y1="98.7" x2="651.0" y2="104.5" stroke="#cc2a2a" stroke-width="1.1"/>
<line x1="651.0" y1="92.9" x2="645.1" y2="92.9" stroke="#a9c6c6" stroke-width="1.1"/>
<line x1="645.1" y1="92.9" x2="639.3" y2="92.9" stroke="#cc2a2a" stroke-width="1.1"/>
<line x1="651.0" y1="92.9" x2="656.8" y2="92.9" stroke="#a9c6c6" stroke-width="1.1"/>
<line x1="656.8" y1="92.9" x2="662.7" y2="92.9" stroke="#cc2a2a" stroke-width="1.1"/>
<line x1="639.3" y1="81.3" x2="645.1" y2="87.1" stroke="#8a6a96" stroke-width="1.1"/>
<line x1="645.1" y1="87.1" x2="651.0" y2="92.9" stroke="#a03462" stroke-width="1.1"/>
<line x1="662.7" y1="81.3" x2="656.8" y2="87.1" stroke="#8a6a96" stroke-width="1.1"/>
<line x1="656.8" y1="87.1" x2="651.0" y2="92.9" stroke="#a03462" stroke-width="1.1"/>
<line x1="639.3" y1="104.5" x2="645.1" y2="98.7" stroke="#8a6a96" stroke-width="1.1"/>
<line x1="645.1" y1="98.7" x2="651.0" y2="92.9" stroke="#a03462" stroke-width="1.1"/>
<line x1="662.7" y1="104.5" x2="656.8" y2="98.7" stroke="#8a6a96" stroke-width="1.1"/>
<line x1="656.8" y1="98.7" x2="651.0" y2="92.9" stroke="#a03462" stroke-width="1.1"/>
<line x1="651.0" y1="116.1" x2="651.0" y2="110.3" stroke="#a9c6c6" stroke-width="1.1"/>
<line x1="651.0" y1="110.3" x2="651.0" y2="104.5" stroke="#cc2a2a" stroke-width="1.1"/>
<line x1="651.0" y1="116.1" x2="651.0" y2="121.9" stroke="#a9c6c6" stroke-width="1.1"/>
<line x1="651.0" y1="121.9" x2="651.0" y2="127.7" stroke="#cc2a2a" stroke-width="1.1"/>
<line x1="651.0" y1="116.1" x2="645.1" y2="116.1" stroke="#a9c6c6" stroke-width="1.1"/>
<line x1="645.1" y1="116.1" x2="639.3" y2="116.1" stroke="#cc2a2a" stroke-width="1.1"/>
<line x1="651.0" y1="116.1" x2="656.8" y2="116.1" stroke="#a9c6c6" stroke-width="1.1"/>
<line x1="656.8" y1="116.1" x2="662.7" y2="116.1" stroke="#cc2a2a" stroke-width="1.1"/>
<line x1="639.3" y1="104.5" x2="645.1" y2="110.3" stroke="#8a6a96" stroke-width="1.1"/>
<line x1="645.1" y1="110.3" x2="651.0" y2="116.1" stroke="#a03462" stroke-width="1.1"/>
<line x1="662.7" y1="104.5" x2="656.8" y2="110.3" stroke="#8a6a96" stroke-width="1.1"/>
<line x1="656.8" y1="110.3" x2="651.0" y2="116.1" stroke="#a03462" stroke-width="1.1"/>
<line x1="639.3" y1="127.7" x2="645.1" y2="121.9" stroke="#8a6a96" stroke-width="1.1"/>
<line x1="645.1" y1="121.9" x2="651.0" y2="116.1" stroke="#a03462" stroke-width="1.1"/>
<line x1="662.7" y1="127.7" x2="656.8" y2="121.9" stroke="#8a6a96" stroke-width="1.1"/>
<line x1="656.8" y1="121.9" x2="651.0" y2="116.1" stroke="#a03462" stroke-width="1.1"/>
<circle cx="557.2" cy="81.3" r="1.7" fill="#d42222"/>
<circle cx="557.2" cy="104.5" r="1.7" fill="#d42222"/>
<circle cx="557.2" cy="127.7" r="1.7" fill="#d42222"/>
<circle cx="557.2" cy="92.9" r="2.4" fill="#a03462"/>
<circle cx="557.2" cy="116.1" r="2.4" fill="#a03462"/>
<circle cx="580.7" cy="81.3" r="1.7" fill="#d42222"/>
<circle cx="580.7" cy="104.5" r="1.7" fill="#d42222"/>
<circle cx="580.7" cy="127.7" r="1.7" fill="#d42222"/>
<circle cx="580.7" cy="92.9" r="2.4" fill="#a03462"/>
<circle cx="580.7" cy="116.1" r="2.4" fill="#a03462"/>
<circle cx="604.1" cy="81.3" r="1.7" fill="#d42222"/>
<circle cx="604.1" cy="104.5" r="1.7" fill="#d42222"/>
<circle cx="604.1" cy="127.7" r="1.7" fill="#d42222"/>
<circle cx="604.1" cy="92.9" r="2.4" fill="#a03462"/>
<circle cx="604.1" cy="116.1" r="2.4" fill="#a03462"/>
<circle cx="627.5" cy="81.3" r="1.7" fill="#d42222"/>
<circle cx="627.5" cy="104.5" r="1.7" fill="#d42222"/>
<circle cx="627.5" cy="127.7" r="1.7" fill="#d42222"/>
<circle cx="627.5" cy="92.9" r="2.4" fill="#a03462"/>
<circle cx="627.5" cy="116.1" r="2.4" fill="#a03462"/>
<circle cx="651.0" cy="81.3" r="1.7" fill="#d42222"/>
<circle cx="651.0" cy="104.5" r="1.7" fill="#d42222"/>
<circle cx="651.0" cy="127.7" r="1.7" fill="#d42222"/>
<circle cx="651.0" cy="92.9" r="2.4" fill="#a03462"/>
<circle cx="651.0" cy="116.1" r="2.4" fill="#a03462"/>
<circle cx="545.5" cy="92.9" r="1.7" fill="#d42222"/>
<circle cx="545.5" cy="116.1" r="1.7" fill="#d42222"/>
<circle cx="568.9" cy="92.9" r="1.7" fill="#d42222"/>
<circle cx="568.9" cy="116.1" r="1.7" fill="#d42222"/>
<circle cx="592.4" cy="92.9" r="1.7" fill="#d42222"/>
<circle cx="592.4" cy="116.1" r="1.7" fill="#d42222"/>
<circle cx="615.8" cy="92.9" r="1.7" fill="#d42222"/>
<circle cx="615.8" cy="116.1" r="1.7" fill="#d42222"/>
<circle cx="639.3" cy="92.9" r="1.7" fill="#d42222"/>
<circle cx="639.3" cy="116.1" r="1.7" fill="#d42222"/>
<circle cx="662.7" cy="92.9" r="1.7" fill="#d42222"/>
<circle cx="662.7" cy="116.1" r="1.7" fill="#d42222"/>
<circle cx="545.5" cy="81.3" r="4.5" fill="url(#gLa)"/>
<circle cx="545.5" cy="104.5" r="4.5" fill="url(#gLa)"/>
<circle cx="545.5" cy="127.7" r="4.5" fill="url(#gLa)"/>
<circle cx="568.9" cy="81.3" r="4.5" fill="url(#gLa)"/>
<circle cx="568.9" cy="104.5" r="4.5" fill="url(#gLa)"/>
<circle cx="568.9" cy="127.7" r="4.5" fill="url(#gLa)"/>
<circle cx="592.4" cy="81.3" r="4.5" fill="url(#gLa)"/>
<circle cx="592.4" cy="104.5" r="4.5" fill="url(#gLa)"/>
<circle cx="592.4" cy="127.7" r="4.5" fill="url(#gLa)"/>
<circle cx="615.8" cy="81.3" r="4.5" fill="url(#gLa)"/>
<circle cx="615.8" cy="104.5" r="4.5" fill="url(#gLa)"/>
<circle cx="615.8" cy="127.7" r="4.5" fill="url(#gLa)"/>
<circle cx="639.3" cy="81.3" r="4.5" fill="url(#gLa)"/>
<circle cx="639.3" cy="104.5" r="4.5" fill="url(#gLa)"/>
<circle cx="639.3" cy="127.7" r="4.5" fill="url(#gLa)"/>
<circle cx="662.7" cy="81.3" r="4.5" fill="url(#gLa)"/>
<circle cx="662.7" cy="104.5" r="4.5" fill="url(#gLa)"/>
<circle cx="662.7" cy="127.7" r="4.5" fill="url(#gLa)"/>
<text x="587" y="151.8" font-size="19" fill="#1f6eb4" font-weight="bold" textLength="40" lengthAdjust="spacingAndGlyphs">LAO</text>
<polygon points="512.9,46.9 530.2,46.9 530.2,44.5 536.7,49.7 530.2,54.9 530.2,52.5 512.9,52.5" fill="#3e8b8e"/>
<polygon points="696.0,45.9 678.0,45.9 678.0,43.5 671.5,48.7 678.0,53.9 678.0,51.5 696.0,51.5" fill="#3e8b8e"/>
<line x1="544.0" y1="176.9" x2="665.4" y2="176.9" stroke="#cc2e2e" stroke-width="1.2"/>
<line x1="544.0" y1="201.0" x2="665.4" y2="201.0" stroke="#cc2e2e" stroke-width="1.2"/>
<line x1="544.0" y1="176.9" x2="544.0" y2="201.0" stroke="#9a3232" stroke-width="1.1"/>
<line x1="568.3" y1="176.9" x2="568.3" y2="201.0" stroke="#9a3232" stroke-width="1.1"/>
<line x1="592.6" y1="176.9" x2="592.6" y2="201.0" stroke="#9a3232" stroke-width="1.1"/>
<line x1="616.8" y1="176.9" x2="616.8" y2="201.0" stroke="#9a3232" stroke-width="1.1"/>
<line x1="641.1" y1="176.9" x2="641.1" y2="201.0" stroke="#9a3232" stroke-width="1.1"/>
<line x1="665.4" y1="176.9" x2="665.4" y2="201.0" stroke="#9a3232" stroke-width="1.1"/>
<line x1="556.1" y1="188.9" x2="556.1" y2="182.9" stroke="#b9b4e2" stroke-width="1.2"/>
<line x1="556.1" y1="182.9" x2="556.1" y2="176.9" stroke="#cc2e2e" stroke-width="1.2"/>
<line x1="556.1" y1="188.9" x2="556.1" y2="195.0" stroke="#b9b4e2" stroke-width="1.2"/>
<line x1="556.1" y1="195.0" x2="556.1" y2="201.0" stroke="#cc2e2e" stroke-width="1.2"/>
<line x1="556.1" y1="188.9" x2="550.1" y2="188.9" stroke="#b9b4e2" stroke-width="1.2"/>
<line x1="550.1" y1="188.9" x2="544.0" y2="188.9" stroke="#cc2e2e" stroke-width="1.2"/>
<line x1="556.1" y1="188.9" x2="562.2" y2="188.9" stroke="#b9b4e2" stroke-width="1.2"/>
<line x1="562.2" y1="188.9" x2="568.3" y2="188.9" stroke="#cc2e2e" stroke-width="1.2"/>
<line x1="544.0" y1="176.9" x2="550.1" y2="182.9" stroke="#62c862" stroke-width="1.1"/>
<line x1="550.1" y1="182.9" x2="556.1" y2="188.9" stroke="#b84646" stroke-width="1.2"/>
<line x1="568.3" y1="176.9" x2="562.2" y2="182.9" stroke="#62c862" stroke-width="1.1"/>
<line x1="562.2" y1="182.9" x2="556.1" y2="188.9" stroke="#b84646" stroke-width="1.2"/>
<line x1="544.0" y1="201.0" x2="550.1" y2="195.0" stroke="#62c862" stroke-width="1.1"/>
<line x1="550.1" y1="195.0" x2="556.1" y2="188.9" stroke="#b84646" stroke-width="1.2"/>
<line x1="568.3" y1="201.0" x2="562.2" y2="195.0" stroke="#62c862" stroke-width="1.1"/>
<line x1="562.2" y1="195.0" x2="556.1" y2="188.9" stroke="#b84646" stroke-width="1.2"/>
<line x1="580.4" y1="188.9" x2="580.4" y2="182.9" stroke="#b9b4e2" stroke-width="1.2"/>
<line x1="580.4" y1="182.9" x2="580.4" y2="176.9" stroke="#cc2e2e" stroke-width="1.2"/>
<line x1="580.4" y1="188.9" x2="580.4" y2="195.0" stroke="#b9b4e2" stroke-width="1.2"/>
<line x1="580.4" y1="195.0" x2="580.4" y2="201.0" stroke="#cc2e2e" stroke-width="1.2"/>
<line x1="580.4" y1="188.9" x2="574.3" y2="188.9" stroke="#b9b4e2" stroke-width="1.2"/>
<line x1="574.3" y1="188.9" x2="568.3" y2="188.9" stroke="#cc2e2e" stroke-width="1.2"/>
<line x1="580.4" y1="188.9" x2="586.5" y2="188.9" stroke="#b9b4e2" stroke-width="1.2"/>
<line x1="586.5" y1="188.9" x2="592.6" y2="188.9" stroke="#cc2e2e" stroke-width="1.2"/>
<line x1="568.3" y1="176.9" x2="574.3" y2="182.9" stroke="#62c862" stroke-width="1.1"/>
<line x1="574.3" y1="182.9" x2="580.4" y2="188.9" stroke="#b84646" stroke-width="1.2"/>
<line x1="592.6" y1="176.9" x2="586.5" y2="182.9" stroke="#62c862" stroke-width="1.1"/>
<line x1="586.5" y1="182.9" x2="580.4" y2="188.9" stroke="#b84646" stroke-width="1.2"/>
<line x1="568.3" y1="201.0" x2="574.3" y2="195.0" stroke="#62c862" stroke-width="1.1"/>
<line x1="574.3" y1="195.0" x2="580.4" y2="188.9" stroke="#b84646" stroke-width="1.2"/>
<line x1="592.6" y1="201.0" x2="586.5" y2="195.0" stroke="#62c862" stroke-width="1.1"/>
<line x1="586.5" y1="195.0" x2="580.4" y2="188.9" stroke="#b84646" stroke-width="1.2"/>
<line x1="604.7" y1="188.9" x2="604.7" y2="182.9" stroke="#b9b4e2" stroke-width="1.2"/>
<line x1="604.7" y1="182.9" x2="604.7" y2="176.9" stroke="#cc2e2e" stroke-width="1.2"/>
<line x1="604.7" y1="188.9" x2="604.7" y2="195.0" stroke="#b9b4e2" stroke-width="1.2"/>
<line x1="604.7" y1="195.0" x2="604.7" y2="201.0" stroke="#cc2e2e" stroke-width="1.2"/>
<line x1="604.7" y1="188.9" x2="598.6" y2="188.9" stroke="#b9b4e2" stroke-width="1.2"/>
<line x1="598.6" y1="188.9" x2="592.6" y2="188.9" stroke="#cc2e2e" stroke-width="1.2"/>
<line x1="604.7" y1="188.9" x2="610.8" y2="188.9" stroke="#b9b4e2" stroke-width="1.2"/>
<line x1="610.8" y1="188.9" x2="616.8" y2="188.9" stroke="#cc2e2e" stroke-width="1.2"/>
<line x1="592.6" y1="176.9" x2="598.6" y2="182.9" stroke="#62c862" stroke-width="1.1"/>
<line x1="598.6" y1="182.9" x2="604.7" y2="188.9" stroke="#b84646" stroke-width="1.2"/>
<line x1="616.8" y1="176.9" x2="610.8" y2="182.9" stroke="#62c862" stroke-width="1.1"/>
<line x1="610.8" y1="182.9" x2="604.7" y2="188.9" stroke="#b84646" stroke-width="1.2"/>
<line x1="592.6" y1="201.0" x2="598.6" y2="195.0" stroke="#62c862" stroke-width="1.1"/>
<line x1="598.6" y1="195.0" x2="604.7" y2="188.9" stroke="#b84646" stroke-width="1.2"/>
<line x1="616.8" y1="201.0" x2="610.8" y2="195.0" stroke="#62c862" stroke-width="1.1"/>
<line x1="610.8" y1="195.0" x2="604.7" y2="188.9" stroke="#b84646" stroke-width="1.2"/>
<line x1="629.0" y1="188.9" x2="629.0" y2="182.9" stroke="#b9b4e2" stroke-width="1.2"/>
<line x1="629.0" y1="182.9" x2="629.0" y2="176.9" stroke="#cc2e2e" stroke-width="1.2"/>
<line x1="629.0" y1="188.9" x2="629.0" y2="195.0" stroke="#b9b4e2" stroke-width="1.2"/>
<line x1="629.0" y1="195.0" x2="629.0" y2="201.0" stroke="#cc2e2e" stroke-width="1.2"/>
<line x1="629.0" y1="188.9" x2="622.9" y2="188.9" stroke="#b9b4e2" stroke-width="1.2"/>
<line x1="622.9" y1="188.9" x2="616.8" y2="188.9" stroke="#cc2e2e" stroke-width="1.2"/>
<line x1="629.0" y1="188.9" x2="635.0" y2="188.9" stroke="#b9b4e2" stroke-width="1.2"/>
<line x1="635.0" y1="188.9" x2="641.1" y2="188.9" stroke="#cc2e2e" stroke-width="1.2"/>
<line x1="616.8" y1="176.9" x2="622.9" y2="182.9" stroke="#62c862" stroke-width="1.1"/>
<line x1="622.9" y1="182.9" x2="629.0" y2="188.9" stroke="#b84646" stroke-width="1.2"/>
<line x1="641.1" y1="176.9" x2="635.0" y2="182.9" stroke="#62c862" stroke-width="1.1"/>
<line x1="635.0" y1="182.9" x2="629.0" y2="188.9" stroke="#b84646" stroke-width="1.2"/>
<line x1="616.8" y1="201.0" x2="622.9" y2="195.0" stroke="#62c862" stroke-width="1.1"/>
<line x1="622.9" y1="195.0" x2="629.0" y2="188.9" stroke="#b84646" stroke-width="1.2"/>
<line x1="641.1" y1="201.0" x2="635.0" y2="195.0" stroke="#62c862" stroke-width="1.1"/>
<line x1="635.0" y1="195.0" x2="629.0" y2="188.9" stroke="#b84646" stroke-width="1.2"/>
<line x1="653.3" y1="188.9" x2="653.3" y2="182.9" stroke="#b9b4e2" stroke-width="1.2"/>
<line x1="653.3" y1="182.9" x2="653.3" y2="176.9" stroke="#cc2e2e" stroke-width="1.2"/>
<line x1="653.3" y1="188.9" x2="653.3" y2="195.0" stroke="#b9b4e2" stroke-width="1.2"/>
<line x1="653.3" y1="195.0" x2="653.3" y2="201.0" stroke="#cc2e2e" stroke-width="1.2"/>
<line x1="653.3" y1="188.9" x2="647.2" y2="188.9" stroke="#b9b4e2" stroke-width="1.2"/>
<line x1="647.2" y1="188.9" x2="641.1" y2="188.9" stroke="#cc2e2e" stroke-width="1.2"/>
<line x1="653.3" y1="188.9" x2="659.3" y2="188.9" stroke="#b9b4e2" stroke-width="1.2"/>
<line x1="659.3" y1="188.9" x2="665.4" y2="188.9" stroke="#cc2e2e" stroke-width="1.2"/>
<line x1="641.1" y1="176.9" x2="647.2" y2="182.9" stroke="#62c862" stroke-width="1.1"/>
<line x1="647.2" y1="182.9" x2="653.3" y2="188.9" stroke="#b84646" stroke-width="1.2"/>
<line x1="665.4" y1="176.9" x2="659.3" y2="182.9" stroke="#62c862" stroke-width="1.1"/>
<line x1="659.3" y1="182.9" x2="653.3" y2="188.9" stroke="#b84646" stroke-width="1.2"/>
<line x1="641.1" y1="201.0" x2="647.2" y2="195.0" stroke="#62c862" stroke-width="1.1"/>
<line x1="647.2" y1="195.0" x2="653.3" y2="188.9" stroke="#b84646" stroke-width="1.2"/>
<line x1="665.4" y1="201.0" x2="659.3" y2="195.0" stroke="#62c862" stroke-width="1.1"/>
<line x1="659.3" y1="195.0" x2="653.3" y2="188.9" stroke="#b84646" stroke-width="1.2"/>
<circle cx="556.1" cy="176.9" r="1.5" fill="#d82424"/>
<circle cx="556.1" cy="201.0" r="1.5" fill="#d82424"/>
<circle cx="556.1" cy="188.9" r="1.9" fill="#c85a5a"/>
<circle cx="556.1" cy="188.9" r="0.9" fill="#f4c4c0"/>
<circle cx="580.4" cy="176.9" r="1.5" fill="#d82424"/>
<circle cx="580.4" cy="201.0" r="1.5" fill="#d82424"/>
<circle cx="580.4" cy="188.9" r="1.9" fill="#c85a5a"/>
<circle cx="580.4" cy="188.9" r="0.9" fill="#f4c4c0"/>
<circle cx="604.7" cy="176.9" r="1.5" fill="#d82424"/>
<circle cx="604.7" cy="201.0" r="1.5" fill="#d82424"/>
<circle cx="604.7" cy="188.9" r="1.9" fill="#c85a5a"/>
<circle cx="604.7" cy="188.9" r="0.9" fill="#f4c4c0"/>
<circle cx="629.0" cy="176.9" r="1.5" fill="#d82424"/>
<circle cx="629.0" cy="201.0" r="1.5" fill="#d82424"/>
<circle cx="629.0" cy="188.9" r="1.9" fill="#c85a5a"/>
<circle cx="629.0" cy="188.9" r="0.9" fill="#f4c4c0"/>
<circle cx="653.3" cy="176.9" r="1.5" fill="#d82424"/>
<circle cx="653.3" cy="201.0" r="1.5" fill="#d82424"/>
<circle cx="653.3" cy="188.9" r="1.9" fill="#c85a5a"/>
<circle cx="653.3" cy="188.9" r="0.9" fill="#f4c4c0"/>
<circle cx="544.0" cy="188.9" r="1.4" fill="#d82424"/>
<circle cx="568.3" cy="188.9" r="1.4" fill="#d82424"/>
<circle cx="592.6" cy="188.9" r="1.4" fill="#d82424"/>
<circle cx="616.8" cy="188.9" r="1.4" fill="#d82424"/>
<circle cx="641.1" cy="188.9" r="1.4" fill="#d82424"/>
<circle cx="665.4" cy="188.9" r="1.4" fill="#d82424"/>
<circle cx="544.0" cy="176.9" r="5.6" fill="url(#gBa)"/>
<circle cx="544.0" cy="201.0" r="5.6" fill="url(#gBa)"/>
<circle cx="568.3" cy="176.9" r="5.6" fill="url(#gBa)"/>
<circle cx="568.3" cy="201.0" r="5.6" fill="url(#gBa)"/>
<circle cx="592.6" cy="176.9" r="5.6" fill="url(#gBa)"/>
<circle cx="592.6" cy="201.0" r="5.6" fill="url(#gBa)"/>
<circle cx="616.8" cy="176.9" r="5.6" fill="url(#gBa)"/>
<circle cx="616.8" cy="201.0" r="5.6" fill="url(#gBa)"/>
<circle cx="641.1" cy="176.9" r="5.6" fill="url(#gBa)"/>
<circle cx="641.1" cy="201.0" r="5.6" fill="url(#gBa)"/>
<circle cx="665.4" cy="176.9" r="5.6" fill="url(#gBa)"/>
<circle cx="665.4" cy="201.0" r="5.6" fill="url(#gBa)"/>
<line x1="541.0" y1="219.7" x2="547.4" y2="219.7" stroke="#3b9ad0" stroke-width="1.2"/>
<line x1="547.4" y1="219.7" x2="553.8" y2="219.7" stroke="#96508a" stroke-width="1.2"/>
<line x1="541.0" y1="219.7" x2="541.0" y2="226.1" stroke="#3b9ad0" stroke-width="1.2"/>
<line x1="541.0" y1="226.1" x2="541.0" y2="232.5" stroke="#96508a" stroke-width="1.2"/>
<line x1="541.0" y1="232.5" x2="547.4" y2="232.5" stroke="#96508a" stroke-width="1.2"/>
<line x1="547.4" y1="232.5" x2="553.8" y2="232.5" stroke="#3b9ad0" stroke-width="1.2"/>
<line x1="541.0" y1="232.5" x2="541.0" y2="238.8" stroke="#96508a" stroke-width="1.2"/>
<line x1="541.0" y1="238.8" x2="541.0" y2="245.2" stroke="#3b9ad0" stroke-width="1.2"/>
<line x1="541.0" y1="245.2" x2="547.4" y2="245.2" stroke="#3b9ad0" stroke-width="1.2"/>
<line x1="547.4" y1="245.2" x2="553.8" y2="245.2" stroke="#96508a" stroke-width="1.2"/>
<line x1="541.0" y1="245.2" x2="541.0" y2="251.6" stroke="#3b9ad0" stroke-width="1.2"/>
<line x1="541.0" y1="251.6" x2="541.0" y2="258.0" stroke="#96508a" stroke-width="1.2"/>
<line x1="541.0" y1="258.0" x2="547.4" y2="258.0" stroke="#96508a" stroke-width="1.2"/>
<line x1="547.4" y1="258.0" x2="553.8" y2="258.0" stroke="#3b9ad0" stroke-width="1.2"/>
<line x1="541.0" y1="258.0" x2="541.0" y2="264.4" stroke="#96508a" stroke-width="1.2"/>
<line x1="541.0" y1="264.4" x2="541.0" y2="270.8" stroke="#3b9ad0" stroke-width="1.2"/>
<line x1="541.0" y1="270.8" x2="547.4" y2="270.8" stroke="#3b9ad0" stroke-width="1.2"/>
<line x1="547.4" y1="270.8" x2="553.8" y2="270.8" stroke="#96508a" stroke-width="1.2"/>
<line x1="553.8" y1="219.7" x2="560.2" y2="219.7" stroke="#96508a" stroke-width="1.2"/>
<line x1="560.2" y1="219.7" x2="566.6" y2="219.7" stroke="#3b9ad0" stroke-width="1.2"/>
<line x1="553.8" y1="219.7" x2="553.8" y2="226.1" stroke="#96508a" stroke-width="1.2"/>
<line x1="553.8" y1="226.1" x2="553.8" y2="232.5" stroke="#3b9ad0" stroke-width="1.2"/>
<line x1="553.8" y1="232.5" x2="560.2" y2="232.5" stroke="#3b9ad0" stroke-width="1.2"/>
<line x1="560.2" y1="232.5" x2="566.6" y2="232.5" stroke="#96508a" stroke-width="1.2"/>
<line x1="553.8" y1="232.5" x2="553.8" y2="238.8" stroke="#3b9ad0" stroke-width="1.2"/>
<line x1="553.8" y1="238.8" x2="553.8" y2="245.2" stroke="#96508a" stroke-width="1.2"/>
<line x1="553.8" y1="245.2" x2="560.2" y2="245.2" stroke="#96508a" stroke-width="1.2"/>
<line x1="560.2" y1="245.2" x2="566.6" y2="245.2" stroke="#3b9ad0" stroke-width="1.2"/>
<line x1="553.8" y1="245.2" x2="553.8" y2="251.6" stroke="#96508a" stroke-width="1.2"/>
<line x1="553.8" y1="251.6" x2="553.8" y2="258.0" stroke="#3b9ad0" stroke-width="1.2"/>
<line x1="553.8" y1="258.0" x2="560.2" y2="258.0" stroke="#3b9ad0" stroke-width="1.2"/>
<line x1="560.2" y1="258.0" x2="566.6" y2="258.0" stroke="#96508a" stroke-width="1.2"/>
<line x1="553.8" y1="258.0" x2="553.8" y2="264.4" stroke="#3b9ad0" stroke-width="1.2"/>
<line x1="553.8" y1="264.4" x2="553.8" y2="270.8" stroke="#96508a" stroke-width="1.2"/>
<line x1="553.8" y1="270.8" x2="560.2" y2="270.8" stroke="#96508a" stroke-width="1.2"/>
<line x1="560.2" y1="270.8" x2="566.6" y2="270.8" stroke="#3b9ad0" stroke-width="1.2"/>
<line x1="566.6" y1="219.7" x2="573.0" y2="219.7" stroke="#3b9ad0" stroke-width="1.2"/>
<line x1="573.0" y1="219.7" x2="579.4" y2="219.7" stroke="#96508a" stroke-width="1.2"/>
<line x1="566.6" y1="219.7" x2="566.6" y2="226.1" stroke="#3b9ad0" stroke-width="1.2"/>
<line x1="566.6" y1="226.1" x2="566.6" y2="232.5" stroke="#96508a" stroke-width="1.2"/>
<line x1="566.6" y1="232.5" x2="573.0" y2="232.5" stroke="#96508a" stroke-width="1.2"/>
<line x1="573.0" y1="232.5" x2="579.4" y2="232.5" stroke="#3b9ad0" stroke-width="1.2"/>
<line x1="566.6" y1="232.5" x2="566.6" y2="238.8" stroke="#96508a" stroke-width="1.2"/>
<line x1="566.6" y1="238.8" x2="566.6" y2="245.2" stroke="#3b9ad0" stroke-width="1.2"/>
<line x1="566.6" y1="245.2" x2="573.0" y2="245.2" stroke="#3b9ad0" stroke-width="1.2"/>
<line x1="573.0" y1="245.2" x2="579.4" y2="245.2" stroke="#96508a" stroke-width="1.2"/>
<line x1="566.6" y1="245.2" x2="566.6" y2="251.6" stroke="#3b9ad0" stroke-width="1.2"/>
<line x1="566.6" y1="251.6" x2="566.6" y2="258.0" stroke="#96508a" stroke-width="1.2"/>
<line x1="566.6" y1="258.0" x2="573.0" y2="258.0" stroke="#96508a" stroke-width="1.2"/>
<line x1="573.0" y1="258.0" x2="579.4" y2="258.0" stroke="#3b9ad0" stroke-width="1.2"/>
<line x1="566.6" y1="258.0" x2="566.6" y2="264.4" stroke="#96508a" stroke-width="1.2"/>
<line x1="566.6" y1="264.4" x2="566.6" y2="270.8" stroke="#3b9ad0" stroke-width="1.2"/>
<line x1="566.6" y1="270.8" x2="573.0" y2="270.8" stroke="#3b9ad0" stroke-width="1.2"/>
<line x1="573.0" y1="270.8" x2="579.4" y2="270.8" stroke="#96508a" stroke-width="1.2"/>
<line x1="579.4" y1="219.7" x2="585.8" y2="219.7" stroke="#96508a" stroke-width="1.2"/>
<line x1="585.8" y1="219.7" x2="592.2" y2="219.7" stroke="#3b9ad0" stroke-width="1.2"/>
<line x1="579.4" y1="219.7" x2="579.4" y2="226.1" stroke="#96508a" stroke-width="1.2"/>
<line x1="579.4" y1="226.1" x2="579.4" y2="232.5" stroke="#3b9ad0" stroke-width="1.2"/>
<line x1="579.4" y1="232.5" x2="585.8" y2="232.5" stroke="#3b9ad0" stroke-width="1.2"/>
<line x1="585.8" y1="232.5" x2="592.2" y2="232.5" stroke="#96508a" stroke-width="1.2"/>
<line x1="579.4" y1="232.5" x2="579.4" y2="238.8" stroke="#3b9ad0" stroke-width="1.2"/>
<line x1="579.4" y1="238.8" x2="579.4" y2="245.2" stroke="#96508a" stroke-width="1.2"/>
<line x1="579.4" y1="245.2" x2="585.8" y2="245.2" stroke="#96508a" stroke-width="1.2"/>
<line x1="585.8" y1="245.2" x2="592.2" y2="245.2" stroke="#3b9ad0" stroke-width="1.2"/>
<line x1="579.4" y1="245.2" x2="579.4" y2="251.6" stroke="#96508a" stroke-width="1.2"/>
<line x1="579.4" y1="251.6" x2="579.4" y2="258.0" stroke="#3b9ad0" stroke-width="1.2"/>
<line x1="579.4" y1="258.0" x2="585.8" y2="258.0" stroke="#3b9ad0" stroke-width="1.2"/>
<line x1="585.8" y1="258.0" x2="592.2" y2="258.0" stroke="#96508a" stroke-width="1.2"/>
<line x1="579.4" y1="258.0" x2="579.4" y2="264.4" stroke="#3b9ad0" stroke-width="1.2"/>
<line x1="579.4" y1="264.4" x2="579.4" y2="270.8" stroke="#96508a" stroke-width="1.2"/>
<line x1="579.4" y1="270.8" x2="585.8" y2="270.8" stroke="#96508a" stroke-width="1.2"/>
<line x1="585.8" y1="270.8" x2="592.2" y2="270.8" stroke="#3b9ad0" stroke-width="1.2"/>
<line x1="592.2" y1="219.7" x2="598.6" y2="219.7" stroke="#3b9ad0" stroke-width="1.2"/>
<line x1="598.6" y1="219.7" x2="605.0" y2="219.7" stroke="#96508a" stroke-width="1.2"/>
<line x1="592.2" y1="219.7" x2="592.2" y2="226.1" stroke="#3b9ad0" stroke-width="1.2"/>
<line x1="592.2" y1="226.1" x2="592.2" y2="232.5" stroke="#96508a" stroke-width="1.2"/>
<line x1="592.2" y1="232.5" x2="598.6" y2="232.5" stroke="#96508a" stroke-width="1.2"/>
<line x1="598.6" y1="232.5" x2="605.0" y2="232.5" stroke="#3b9ad0" stroke-width="1.2"/>
<line x1="592.2" y1="232.5" x2="592.2" y2="238.8" stroke="#96508a" stroke-width="1.2"/>
<line x1="592.2" y1="238.8" x2="592.2" y2="245.2" stroke="#3b9ad0" stroke-width="1.2"/>
<line x1="592.2" y1="245.2" x2="598.6" y2="245.2" stroke="#3b9ad0" stroke-width="1.2"/>
<line x1="598.6" y1="245.2" x2="605.0" y2="245.2" stroke="#96508a" stroke-width="1.2"/>
<line x1="592.2" y1="245.2" x2="592.2" y2="251.6" stroke="#3b9ad0" stroke-width="1.2"/>
<line x1="592.2" y1="251.6" x2="592.2" y2="258.0" stroke="#96508a" stroke-width="1.2"/>
<line x1="592.2" y1="258.0" x2="598.6" y2="258.0" stroke="#96508a" stroke-width="1.2"/>
<line x1="598.6" y1="258.0" x2="605.0" y2="258.0" stroke="#3b9ad0" stroke-width="1.2"/>
<line x1="592.2" y1="258.0" x2="592.2" y2="264.4" stroke="#96508a" stroke-width="1.2"/>
<line x1="592.2" y1="264.4" x2="592.2" y2="270.8" stroke="#3b9ad0" stroke-width="1.2"/>
<line x1="592.2" y1="270.8" x2="598.6" y2="270.8" stroke="#3b9ad0" stroke-width="1.2"/>
<line x1="598.6" y1="270.8" x2="605.0" y2="270.8" stroke="#96508a" stroke-width="1.2"/>
<line x1="605.0" y1="219.7" x2="611.4" y2="219.7" stroke="#96508a" stroke-width="1.2"/>
<line x1="611.4" y1="219.7" x2="617.8" y2="219.7" stroke="#3b9ad0" stroke-width="1.2"/>
<line x1="605.0" y1="219.7" x2="605.0" y2="226.1" stroke="#96508a" stroke-width="1.2"/>
<line x1="605.0" y1="226.1" x2="605.0" y2="232.5" stroke="#3b9ad0" stroke-width="1.2"/>
<line x1="605.0" y1="232.5" x2="611.4" y2="232.5" stroke="#3b9ad0" stroke-width="1.2"/>
<line x1="611.4" y1="232.5" x2="617.8" y2="232.5" stroke="#96508a" stroke-width="1.2"/>
<line x1="605.0" y1="232.5" x2="605.0" y2="238.8" stroke="#3b9ad0" stroke-width="1.2"/>
<line x1="605.0" y1="238.8" x2="605.0" y2="245.2" stroke="#96508a" stroke-width="1.2"/>
<line x1="605.0" y1="245.2" x2="611.4" y2="245.2" stroke="#96508a" stroke-width="1.2"/>
<line x1="611.4" y1="245.2" x2="617.8" y2="245.2" stroke="#3b9ad0" stroke-width="1.2"/>
<line x1="605.0" y1="245.2" x2="605.0" y2="251.6" stroke="#96508a" stroke-width="1.2"/>
<line x1="605.0" y1="251.6" x2="605.0" y2="258.0" stroke="#3b9ad0" stroke-width="1.2"/>
<line x1="605.0" y1="258.0" x2="611.4" y2="258.0" stroke="#3b9ad0" stroke-width="1.2"/>
<line x1="611.4" y1="258.0" x2="617.8" y2="258.0" stroke="#96508a" stroke-width="1.2"/>
<line x1="605.0" y1="258.0" x2="605.0" y2="264.4" stroke="#3b9ad0" stroke-width="1.2"/>
<line x1="605.0" y1="264.4" x2="605.0" y2="270.8" stroke="#96508a" stroke-width="1.2"/>
<line x1="605.0" y1="270.8" x2="611.4" y2="270.8" stroke="#96508a" stroke-width="1.2"/>
<line x1="611.4" y1="270.8" x2="617.8" y2="270.8" stroke="#3b9ad0" stroke-width="1.2"/>
<line x1="617.8" y1="219.7" x2="624.2" y2="219.7" stroke="#3b9ad0" stroke-width="1.2"/>
<line x1="624.2" y1="219.7" x2="630.6" y2="219.7" stroke="#96508a" stroke-width="1.2"/>
<line x1="617.8" y1="219.7" x2="617.8" y2="226.1" stroke="#3b9ad0" stroke-width="1.2"/>
<line x1="617.8" y1="226.1" x2="617.8" y2="232.5" stroke="#96508a" stroke-width="1.2"/>
<line x1="617.8" y1="232.5" x2="624.2" y2="232.5" stroke="#96508a" stroke-width="1.2"/>
<line x1="624.2" y1="232.5" x2="630.6" y2="232.5" stroke="#3b9ad0" stroke-width="1.2"/>
<line x1="617.8" y1="232.5" x2="617.8" y2="238.8" stroke="#96508a" stroke-width="1.2"/>
<line x1="617.8" y1="238.8" x2="617.8" y2="245.2" stroke="#3b9ad0" stroke-width="1.2"/>
<line x1="617.8" y1="245.2" x2="624.2" y2="245.2" stroke="#3b9ad0" stroke-width="1.2"/>
<line x1="624.2" y1="245.2" x2="630.6" y2="245.2" stroke="#96508a" stroke-width="1.2"/>
<line x1="617.8" y1="245.2" x2="617.8" y2="251.6" stroke="#3b9ad0" stroke-width="1.2"/>
<line x1="617.8" y1="251.6" x2="617.8" y2="258.0" stroke="#96508a" stroke-width="1.2"/>
<line x1="617.8" y1="258.0" x2="624.2" y2="258.0" stroke="#96508a" stroke-width="1.2"/>
<line x1="624.2" y1="258.0" x2="630.6" y2="258.0" stroke="#3b9ad0" stroke-width="1.2"/>
<line x1="617.8" y1="258.0" x2="617.8" y2="264.4" stroke="#96508a" stroke-width="1.2"/>
<line x1="617.8" y1="264.4" x2="617.8" y2="270.8" stroke="#3b9ad0" stroke-width="1.2"/>
<line x1="617.8" y1="270.8" x2="624.2" y2="270.8" stroke="#3b9ad0" stroke-width="1.2"/>
<line x1="624.2" y1="270.8" x2="630.6" y2="270.8" stroke="#96508a" stroke-width="1.2"/>
<line x1="630.6" y1="219.7" x2="637.0" y2="219.7" stroke="#96508a" stroke-width="1.2"/>
<line x1="637.0" y1="219.7" x2="643.4" y2="219.7" stroke="#3b9ad0" stroke-width="1.2"/>
<line x1="630.6" y1="219.7" x2="630.6" y2="226.1" stroke="#96508a" stroke-width="1.2"/>
<line x1="630.6" y1="226.1" x2="630.6" y2="232.5" stroke="#3b9ad0" stroke-width="1.2"/>
<line x1="630.6" y1="232.5" x2="637.0" y2="232.5" stroke="#3b9ad0" stroke-width="1.2"/>
<line x1="637.0" y1="232.5" x2="643.4" y2="232.5" stroke="#96508a" stroke-width="1.2"/>
<line x1="630.6" y1="232.5" x2="630.6" y2="238.8" stroke="#3b9ad0" stroke-width="1.2"/>
<line x1="630.6" y1="238.8" x2="630.6" y2="245.2" stroke="#96508a" stroke-width="1.2"/>
<line x1="630.6" y1="245.2" x2="637.0" y2="245.2" stroke="#96508a" stroke-width="1.2"/>
<line x1="637.0" y1="245.2" x2="643.4" y2="245.2" stroke="#3b9ad0" stroke-width="1.2"/>
<line x1="630.6" y1="245.2" x2="630.6" y2="251.6" stroke="#96508a" stroke-width="1.2"/>
<line x1="630.6" y1="251.6" x2="630.6" y2="258.0" stroke="#3b9ad0" stroke-width="1.2"/>
<line x1="630.6" y1="258.0" x2="637.0" y2="258.0" stroke="#3b9ad0" stroke-width="1.2"/>
<line x1="637.0" y1="258.0" x2="643.4" y2="258.0" stroke="#96508a" stroke-width="1.2"/>
<line x1="630.6" y1="258.0" x2="630.6" y2="264.4" stroke="#3b9ad0" stroke-width="1.2"/>
<line x1="630.6" y1="264.4" x2="630.6" y2="270.8" stroke="#96508a" stroke-width="1.2"/>
<line x1="630.6" y1="270.8" x2="637.0" y2="270.8" stroke="#96508a" stroke-width="1.2"/>
<line x1="637.0" y1="270.8" x2="643.4" y2="270.8" stroke="#3b9ad0" stroke-width="1.2"/>
<line x1="643.4" y1="219.7" x2="649.8" y2="219.7" stroke="#3b9ad0" stroke-width="1.2"/>
<line x1="649.8" y1="219.7" x2="656.2" y2="219.7" stroke="#96508a" stroke-width="1.2"/>
<line x1="643.4" y1="219.7" x2="643.4" y2="226.1" stroke="#3b9ad0" stroke-width="1.2"/>
<line x1="643.4" y1="226.1" x2="643.4" y2="232.5" stroke="#96508a" stroke-width="1.2"/>
<line x1="643.4" y1="232.5" x2="649.8" y2="232.5" stroke="#96508a" stroke-width="1.2"/>
<line x1="649.8" y1="232.5" x2="656.2" y2="232.5" stroke="#3b9ad0" stroke-width="1.2"/>
<line x1="643.4" y1="232.5" x2="643.4" y2="238.8" stroke="#96508a" stroke-width="1.2"/>
<line x1="643.4" y1="238.8" x2="643.4" y2="245.2" stroke="#3b9ad0" stroke-width="1.2"/>
<line x1="643.4" y1="245.2" x2="649.8" y2="245.2" stroke="#3b9ad0" stroke-width="1.2"/>
<line x1="649.8" y1="245.2" x2="656.2" y2="245.2" stroke="#96508a" stroke-width="1.2"/>
<line x1="643.4" y1="245.2" x2="643.4" y2="251.6" stroke="#3b9ad0" stroke-width="1.2"/>
<line x1="643.4" y1="251.6" x2="643.4" y2="258.0" stroke="#96508a" stroke-width="1.2"/>
<line x1="643.4" y1="258.0" x2="649.8" y2="258.0" stroke="#96508a" stroke-width="1.2"/>
<line x1="649.8" y1="258.0" x2="656.2" y2="258.0" stroke="#3b9ad0" stroke-width="1.2"/>
<line x1="643.4" y1="258.0" x2="643.4" y2="264.4" stroke="#96508a" stroke-width="1.2"/>
<line x1="643.4" y1="264.4" x2="643.4" y2="270.8" stroke="#3b9ad0" stroke-width="1.2"/>
<line x1="643.4" y1="270.8" x2="649.8" y2="270.8" stroke="#3b9ad0" stroke-width="1.2"/>
<line x1="649.8" y1="270.8" x2="656.2" y2="270.8" stroke="#96508a" stroke-width="1.2"/>
<line x1="656.2" y1="219.7" x2="662.6" y2="219.7" stroke="#96508a" stroke-width="1.2"/>
<line x1="662.6" y1="219.7" x2="669.0" y2="219.7" stroke="#3b9ad0" stroke-width="1.2"/>
<line x1="656.2" y1="219.7" x2="656.2" y2="226.1" stroke="#96508a" stroke-width="1.2"/>
<line x1="656.2" y1="226.1" x2="656.2" y2="232.5" stroke="#3b9ad0" stroke-width="1.2"/>
<line x1="656.2" y1="232.5" x2="662.6" y2="232.5" stroke="#3b9ad0" stroke-width="1.2"/>
<line x1="662.6" y1="232.5" x2="669.0" y2="232.5" stroke="#96508a" stroke-width="1.2"/>
<line x1="656.2" y1="232.5" x2="656.2" y2="238.8" stroke="#3b9ad0" stroke-width="1.2"/>
<line x1="656.2" y1="238.8" x2="656.2" y2="245.2" stroke="#96508a" stroke-width="1.2"/>
<line x1="656.2" y1="245.2" x2="662.6" y2="245.2" stroke="#96508a" stroke-width="1.2"/>
<line x1="662.6" y1="245.2" x2="669.0" y2="245.2" stroke="#3b9ad0" stroke-width="1.2"/>
<line x1="656.2" y1="245.2" x2="656.2" y2="251.6" stroke="#96508a" stroke-width="1.2"/>
<line x1="656.2" y1="251.6" x2="656.2" y2="258.0" stroke="#3b9ad0" stroke-width="1.2"/>
<line x1="656.2" y1="258.0" x2="662.6" y2="258.0" stroke="#3b9ad0" stroke-width="1.2"/>
<line x1="662.6" y1="258.0" x2="669.0" y2="258.0" stroke="#96508a" stroke-width="1.2"/>
<line x1="656.2" y1="258.0" x2="656.2" y2="264.4" stroke="#3b9ad0" stroke-width="1.2"/>
<line x1="656.2" y1="264.4" x2="656.2" y2="270.8" stroke="#96508a" stroke-width="1.2"/>
<line x1="656.2" y1="270.8" x2="662.6" y2="270.8" stroke="#96508a" stroke-width="1.2"/>
<line x1="662.6" y1="270.8" x2="669.0" y2="270.8" stroke="#3b9ad0" stroke-width="1.2"/>
<line x1="669.0" y1="219.7" x2="669.0" y2="226.1" stroke="#3b9ad0" stroke-width="1.2"/>
<line x1="669.0" y1="226.1" x2="669.0" y2="232.5" stroke="#96508a" stroke-width="1.2"/>
<line x1="669.0" y1="232.5" x2="669.0" y2="238.8" stroke="#96508a" stroke-width="1.2"/>
<line x1="669.0" y1="238.8" x2="669.0" y2="245.2" stroke="#3b9ad0" stroke-width="1.2"/>
<line x1="669.0" y1="245.2" x2="669.0" y2="251.6" stroke="#3b9ad0" stroke-width="1.2"/>
<line x1="669.0" y1="251.6" x2="669.0" y2="258.0" stroke="#96508a" stroke-width="1.2"/>
<line x1="669.0" y1="258.0" x2="669.0" y2="264.4" stroke="#96508a" stroke-width="1.2"/>
<line x1="669.0" y1="264.4" x2="669.0" y2="270.8" stroke="#3b9ad0" stroke-width="1.2"/>
<circle cx="541.0" cy="219.7" r="3.6" fill="#34489f"/>
<circle cx="541.0" cy="232.5" r="3.6" fill="#7c2d72"/>
<circle cx="541.0" cy="245.2" r="3.6" fill="#34489f"/>
<circle cx="541.0" cy="258.0" r="3.6" fill="#7c2d72"/>
<circle cx="541.0" cy="270.8" r="3.6" fill="#34489f"/>
<circle cx="553.8" cy="219.7" r="3.6" fill="#7c2d72"/>
<circle cx="553.8" cy="232.5" r="3.6" fill="#34489f"/>
<circle cx="553.8" cy="245.2" r="3.6" fill="#7c2d72"/>
<circle cx="553.8" cy="258.0" r="3.6" fill="#34489f"/>
<circle cx="553.8" cy="270.8" r="3.6" fill="#7c2d72"/>
<circle cx="566.6" cy="219.7" r="3.6" fill="#34489f"/>
<circle cx="566.6" cy="232.5" r="3.6" fill="#7c2d72"/>
<circle cx="566.6" cy="245.2" r="3.6" fill="#34489f"/>
<circle cx="566.6" cy="258.0" r="3.6" fill="#7c2d72"/>
<circle cx="566.6" cy="270.8" r="3.6" fill="#34489f"/>
<circle cx="579.4" cy="219.7" r="3.6" fill="#7c2d72"/>
<circle cx="579.4" cy="232.5" r="3.6" fill="#34489f"/>
<circle cx="579.4" cy="245.2" r="3.6" fill="#7c2d72"/>
<circle cx="579.4" cy="258.0" r="3.6" fill="#34489f"/>
<circle cx="579.4" cy="270.8" r="3.6" fill="#7c2d72"/>
<circle cx="592.2" cy="219.7" r="3.6" fill="#34489f"/>
<circle cx="592.2" cy="232.5" r="3.6" fill="#7c2d72"/>
<circle cx="592.2" cy="245.2" r="3.6" fill="#34489f"/>
<circle cx="592.2" cy="258.0" r="3.6" fill="#7c2d72"/>
<circle cx="592.2" cy="270.8" r="3.6" fill="#34489f"/>
<circle cx="605.0" cy="219.7" r="3.6" fill="#7c2d72"/>
<circle cx="605.0" cy="232.5" r="3.6" fill="#34489f"/>
<circle cx="605.0" cy="245.2" r="3.6" fill="#7c2d72"/>
<circle cx="605.0" cy="258.0" r="3.6" fill="#34489f"/>
<circle cx="605.0" cy="270.8" r="3.6" fill="#7c2d72"/>
<circle cx="617.8" cy="219.7" r="3.6" fill="#34489f"/>
<circle cx="617.8" cy="232.5" r="3.6" fill="#7c2d72"/>
<circle cx="617.8" cy="245.2" r="3.6" fill="#34489f"/>
<circle cx="617.8" cy="258.0" r="3.6" fill="#7c2d72"/>
<circle cx="617.8" cy="270.8" r="3.6" fill="#34489f"/>
<circle cx="630.6" cy="219.7" r="3.6" fill="#7c2d72"/>
<circle cx="630.6" cy="232.5" r="3.6" fill="#34489f"/>
<circle cx="630.6" cy="245.2" r="3.6" fill="#7c2d72"/>
<circle cx="630.6" cy="258.0" r="3.6" fill="#34489f"/>
<circle cx="630.6" cy="270.8" r="3.6" fill="#7c2d72"/>
<circle cx="643.4" cy="219.7" r="3.6" fill="#34489f"/>
<circle cx="643.4" cy="232.5" r="3.6" fill="#7c2d72"/>
<circle cx="643.4" cy="245.2" r="3.6" fill="#34489f"/>
<circle cx="643.4" cy="258.0" r="3.6" fill="#7c2d72"/>
<circle cx="643.4" cy="270.8" r="3.6" fill="#34489f"/>
<circle cx="656.2" cy="219.7" r="3.6" fill="#7c2d72"/>
<circle cx="656.2" cy="232.5" r="3.6" fill="#34489f"/>
<circle cx="656.2" cy="245.2" r="3.6" fill="#7c2d72"/>
<circle cx="656.2" cy="258.0" r="3.6" fill="#34489f"/>
<circle cx="656.2" cy="270.8" r="3.6" fill="#7c2d72"/>
<circle cx="669.0" cy="219.7" r="3.6" fill="#34489f"/>
<circle cx="669.0" cy="232.5" r="3.6" fill="#7c2d72"/>
<circle cx="669.0" cy="245.2" r="3.6" fill="#34489f"/>
<circle cx="669.0" cy="258.0" r="3.6" fill="#7c2d72"/>
<circle cx="669.0" cy="270.8" r="3.6" fill="#34489f"/>
<text x="587" y="294.5" font-size="19" fill="#1f6eb4" font-weight="bold" textLength="41.5" lengthAdjust="spacingAndGlyphs">MgO</text>
<polygon points="536.5,187.6 519.4,187.6 519.4,185.2 512.9,190.4 519.4,195.6 519.4,193.2 536.5,193.2" fill="#3e8b8e"/>
<polygon points="670.5,187.6 686.1,187.6 686.1,185.2 692.6,190.4 686.1,195.6 686.1,193.2 670.5,193.2" fill="#3e8b8e"/>
<rect x="900.2" y="212.1" width="23.6" height="53.7" fill="#8dbb90"/>
<rect x="977.5" y="259.4" width="24.3" height="6.4" fill="#44a6c4"/>
<rect x="1055.5" y="199.6" width="24.1" height="66.2" fill="#4b8282"/>
<g stroke="#000" fill="none" stroke-width="1.4">
<rect x="872.2" y="32.3" width="234.4" height="233.5"/>
<line x1="872.2" y1="149.0" x2="1106.6" y2="149.0"/>
</g>
<g stroke="#000" stroke-width="1.1">
<line x1="872.2" y1="32.3" x2="875.7" y2="32.3"/>
<line x1="872.2" y1="46.9" x2="874.2" y2="46.9"/>
<line x1="872.2" y1="61.5" x2="875.7" y2="61.5"/>
<line x1="872.2" y1="76.1" x2="874.2" y2="76.1"/>
<line x1="872.2" y1="90.6" x2="875.7" y2="90.6"/>
<line x1="872.2" y1="105.2" x2="874.2" y2="105.2"/>
<line x1="872.2" y1="119.8" x2="875.7" y2="119.8"/>
<line x1="872.2" y1="134.4" x2="874.2" y2="134.4"/>
<line x1="872.2" y1="149.0" x2="875.7" y2="149.0"/>
<line x1="872.2" y1="265.8" x2="875.7" y2="265.8"/>
<line x1="872.2" y1="248.5" x2="874.2" y2="248.5"/>
<line x1="872.2" y1="231.1" x2="875.7" y2="231.1"/>
<line x1="872.2" y1="213.8" x2="874.2" y2="213.8"/>
<line x1="872.2" y1="196.4" x2="875.7" y2="196.4"/>
<line x1="872.2" y1="179.1" x2="874.2" y2="179.1"/>
<line x1="872.2" y1="161.7" x2="875.7" y2="161.7"/>
</g>
<line x1="875.2" y1="90.6" x2="1106.6" y2="90.6" stroke="#222" stroke-width="1.5" stroke-dasharray="1.5 4.8"/>
<text x="869.2" y="36.1" font-size="10.3" fill="#000" font-weight="bold" text-anchor="end" >1.02</text>
<text x="869.2" y="65.3" font-size="10.3" fill="#000" font-weight="bold" text-anchor="end" >1.01</text>
<text x="869.2" y="94.4" font-size="10.3" fill="#000" font-weight="bold" text-anchor="end" >1.00</text>
<text x="869.2" y="123.6" font-size="10.3" fill="#000" font-weight="bold" text-anchor="end" >0.99</text>
<text x="869.2" y="152.8" font-size="10.3" fill="#000" font-weight="bold" text-anchor="end" >0.98</text>
<text x="869.2" y="269.6" font-size="10.3" fill="#000" font-weight="bold" text-anchor="end" >0.0</text>
<text x="869.2" y="234.9" font-size="10.3" fill="#000" font-weight="bold" text-anchor="end" >4.0x10<tspan font-size="7.6" dy="-3.6">4</tspan></text>
<text x="869.2" y="200.2" font-size="10.3" fill="#000" font-weight="bold" text-anchor="end" >8.0x10<tspan font-size="7.6" dy="-3.6">4</tspan></text>
<text x="869.2" y="165.5" font-size="10.3" fill="#000" font-weight="bold" text-anchor="end" >1.2x10<tspan font-size="7.6" dy="-3.6">5</tspan></text>
<text transform="translate(844.3,90.8) rotate(-90)" font-size="17.5" font-weight="bold" font-style="italic" text-anchor="middle" fill="#000" textLength="24.5" lengthAdjust="spacingAndGlyphs">c/a</text>
<text transform="translate(829.2,207) rotate(-90)" font-size="11.6" font-weight="bold" text-anchor="middle" fill="#000" textLength="98" lengthAdjust="spacingAndGlyphs">PL Intensity (a.u.)</text>
<rect x="907.6" y="60.9" width="8.8" height="8.8" fill="#fff" stroke="#8dbb90" stroke-width="1.2"/>
<rect x="907.6" y="60.9" width="4.4" height="8.8" fill="#8dbb90"/>
<polygon points="983.9,86.8 989.5,81.2 995.1,86.8 989.5,92.4" fill="#fff" stroke="#3aa5c0" stroke-width="1.2"/>
<polygon points="983.9,86.8 989.5,81.2 989.5,92.4" fill="#3aa5c0"/>
<polygon points="1071.9,122.5 1067.3,125.1 1062.7,122.5 1062.7,117.1 1067.3,114.5 1071.9,117.1" fill="#fff" stroke="#4b8282" stroke-width="1.2"/>
<polygon points="1067.3,125.1 1062.7,122.5 1062.7,117.1 1067.3,114.5" fill="#4b8282"/>
<text x="912.0" y="55.6" font-size="10.6" fill="#000" font-weight="bold" text-anchor="middle" >1.0088</text>
<text x="990.0" y="74.4" font-size="10.6" fill="#000" font-weight="bold" text-anchor="middle" >1.0015</text>
<text x="1068.0" y="136.3" font-size="10.6" fill="#000" font-weight="bold" text-anchor="middle" >0.9901</text>
<text x="912.0" y="205.8" font-size="10.6" fill="#2f8a2f" font-weight="bold" text-anchor="middle" >61875</text>
<text x="990.0" y="254.2" font-size="10.6" fill="#2f8a2f" font-weight="bold" text-anchor="middle" >7360</text>
<text x="1067.6" y="193.9" font-size="10.6" fill="#2f8a2f" font-weight="bold" text-anchor="middle" >76372</text>
<text x="948.5" y="237.2" font-size="9.5" fill="#c2336c" font-weight="bold" text-anchor="middle" >740.7%</text>
<text x="1035.0" y="237.2" font-size="9.5" fill="#c2336c" font-weight="bold" text-anchor="middle" >937.7%</text>
<text x="938.2" y="172" font-size="13" font-weight="bold" fill="#1c1c8e" textLength="109" lengthAdjust="spacingAndGlyphs">638 nm, <tspan font-size="8" dy="-5">4</tspan><tspan dy="5">G</tspan><tspan font-size="8" dy="3">5/2</tspan><tspan dy="-3">→</tspan><tspan font-size="8" dy="-5">6</tspan><tspan dy="5">H</tspan><tspan font-size="8" dy="3">9/2</tspan></text>
<path d="M934.2,208.4 C948,213.5 964,227 977.6,245.7" fill="none" stroke="#505050" stroke-width="1.5" stroke-dasharray="5.6 3.8"/>
<path d="M1001.4,247 C1012,228 1030,207 1052,199.7" fill="none" stroke="#505050" stroke-width="1.5" stroke-dasharray="5.6 3.8"/>
<text x="912.0" y="282.8" font-size="12.4" fill="#000" font-weight="bold" text-anchor="middle" >LAO</text>
<text x="990.6" y="282.8" font-size="12.4" fill="#000" font-weight="bold" text-anchor="middle" >PMN-PT</text>
<text x="1067.6" y="282.8" font-size="12.4" fill="#000" font-weight="bold" text-anchor="middle" >MgO</text>
<defs>
<linearGradient id="gFilmU" gradientUnits="userSpaceOnUse" x1="240" y1="350" x2="370" y2="385">
<stop offset="0" stop-color="#3d8a7a"/><stop offset="0.45" stop-color="#2f7867"/><stop offset="1" stop-color="#2b6f62"/></linearGradient>
<linearGradient id="gFilmN" gradientUnits="userSpaceOnUse" x1="250" y1="495" x2="330" y2="545">
<stop offset="0" stop-color="#3a8273"/><stop offset="1" stop-color="#2b6f62"/></linearGradient>
<linearGradient id="gMicaL" gradientUnits="userSpaceOnUse" x1="27" y1="455" x2="81" y2="490">
<stop offset="0" stop-color="#9a9aa2"/><stop offset="1" stop-color="#b4b4bc"/></linearGradient>
<linearGradient id="gMoldL" gradientUnits="userSpaceOnUse" x1="215" y1="360" x2="294" y2="410">
<stop offset="0" stop-color="#93a8be"/><stop offset="1" stop-color="#8096ae"/></linearGradient>
<linearGradient id="gMoldN" gradientUnits="userSpaceOnUse" x1="225" y1="530" x2="295" y2="575">
<stop offset="0" stop-color="#92a7be"/><stop offset="1" stop-color="#7c92aa"/></linearGradient>
<linearGradient id="gStrip" gradientUnits="userSpaceOnUse" x1="332" y1="393.5" x2="332" y2="399.5"><stop offset="0" stop-color="#c6d2da"/><stop offset="0.6" stop-color="#d8d4dc"/><stop offset="1" stop-color="#dcc6d0"/></linearGradient>
<filter id="blur1" x="-20%" y="-20%" width="140%" height="140%"><feGaussianBlur stdDeviation="0.5"/></filter>
</defs>
<polygon points="26.9,449.9 80.9,485.4 80.9,498.6 26.9,461.6" fill="url(#gMicaL)"/>
<polygon points="80.9,485.4 190.2,467.4 190.2,480.6 80.9,498.6" fill="#d2d3da"/>
<polygon points="26.9,447.5 80.9,483.0 80.9,485.7 26.9,450.2" fill="#2c7c73"/>
<polygon points="80.9,483.0 190.2,465.0 190.2,467.7 80.9,485.7" fill="#3a8f86"/>
<polygon points="26.9,447.5 136.1,430.6 190.2,465.0 80.9,483.0" fill="#4a9e94" stroke="#4a9e94" stroke-width="0.5"/>
<text transform="matrix(1,-0.165,0,1,121.5,487.8)" font-size="11.5" fill="#1a1a1a" font-weight="bold" textLength="26.5" lengthAdjust="spacingAndGlyphs">Mica</text>
<text x="81.5" y="520.2" font-size="18.5" fill="#c23030" font-weight="bold" textLength="57" lengthAdjust="spacingAndGlyphs">Unbent</text>
<polygon points="215.2,355.5 293.8,382.8 293.8,414.5 215.2,389.7" fill="url(#gMoldL)"/>
<polygon points="308.6,330.1 387.5,357.4 387.5,359.0 378.1,370.5 374.0,367.0 296.0,341.5 302.4,337.0" fill="#8ea3b8"/>
<path d="M293.8,382.8 L293.8,415.2 L387.8,391.3 L387.8,357.4 L376.7,369.3 C372,377.5 366,383.5 359.9,387.5 C355,391 350.5,393.8 345.9,395.9 C341,397.8 336.5,398.8 331.9,399.1 C328,399.3 324.5,399.3 320.8,398.7 C315,397.2 310,395 305.8,392.2 L304.4,389.7 Z" fill="#a9cdea"/>
<path d="M306.4,386.2 L304.4,389.9 L305.8,392.4 C310,395.2 315,397.4 320.8,398.9 C324.5,399.5 328,399.5 331.9,399.3 C336.5,399 341,398 345.9,396.1 C350.5,394 355,391.2 359.9,387.7 C366,383.7 372,377.7 376.9,369.3 L375,366.1 Z" fill="url(#gStrip)"/>
<path d="M227.4,358.4 L254.7,366.3 C262,365.5 268,363.5 274.6,359.8 C281,356 286,352 289.5,348.7 C292.5,345.8 295,343 296.5,340.3 L375,366.1 C371,373.5 365.5,379.5 359.9,383.5 C355,387 350.5,389.5 345.9,391.2 C341,392.8 336.5,393.8 331.9,394 C327,394 322.5,393.5 318,392.2 C314,391 311,389.3 308.6,387 L306.4,386.2 L304.4,389.9 L293.8,382.8 Z" fill="url(#gFilmU)"/>
<polygon points="293.8,382.8 304.4,389.9 306.1,386.6 300.0,382.0" fill="#295f55"/>
<polygon points="306.3,373.8 319.8,382.7 318.5,384.6 327.7,385.2 323.5,377.1 322.2,379.0 308.7,370.2" fill="#27b060" filter="url(#blur1)"/>
<polygon points="373.0,353.1 359.9,368.5 358.0,366.9 355.4,376.5 364.5,372.4 362.6,370.8 375.8,355.5" fill="#27b060" filter="url(#blur1)"/>
<text transform="translate(301.2,410.6) rotate(-10)" font-size="10.5" fill="#2272c4" font-weight="bold" textLength="18.4" lengthAdjust="spacingAndGlyphs">Mold</text>
<text x="273.2" y="433.4" font-size="18.5" fill="#b02a2a" font-weight="bold" textLength="49.5" lengthAdjust="spacingAndGlyphs">u-type</text>
<text x="223.6" y="456" font-size="18.5" fill="#b02a2a" font-weight="bold" textLength="144.2" lengthAdjust="spacingAndGlyphs" xml:space="preserve" style="white-space:pre">(Inward  Bending)</text>
<polygon points="225.2,525.5 304.6,551.8 294.3,576.6 214.6,549.4" fill="url(#gMoldN)"/>
<polygon points="295.1,576.6 385.9,551.8 381.0,543.0 375.6,535.5 375.6,532.0 376.3,531.8 372.3,529.8 367.8,528.2 362.9,526.8 358.3,525.8 354.3,525.4 350.5,525.4 345.3,525.6 340.8,526.5 336.5,528.4 330.8,531.0 325.8,534.2 321.0,537.8 314.8,542.4 309.3,547.0 304.3,551.2" fill="#a9cdea"/>
<polygon points="224.3,523.2 225.2,526.3 304.9,552.6 309.9,548.4 315.4,543.8 321.6,539.2 326.4,535.6 331.4,532.4 337.1,529.8 341.4,527.9 345.9,527.0 351.1,526.8 354.9,526.8 358.9,527.2 363.5,528.2 368.4,529.6 372.9,531.2 375.8,533.0 376.0,530.6" fill="#c3c9d3"/>
<path d="M223.9,522.3 C225,518 227,514.5 229.8,511.4 C234,506.5 238.5,503.3 243.8,500.5 C249,497.8 254,496.3 259.3,495.6 C264,495 268.5,494.6 273.3,494.6 C278,494.7 282,495.3 285.7,496.4 L376.6,528.5 L376,530.6 L376.0,530.6 L372.0,528.6 L367.5,527.0 L362.6,525.6 L358.0,524.6 L354.0,524.2 L350.2,524.2 L345.0,524.4 L340.5,525.3 L336.2,527.2 L330.5,529.8 L325.5,533.0 L320.7,536.6 L314.5,541.2 L309.0,545.8 L304.0,550.0 Z" fill="url(#gFilmN)"/>
<polygon points="311.4,522.5 300.3,540.3 298.3,539.0 297.2,548.9 305.6,543.5 303.6,542.3 314.6,524.5" fill="#27b060" filter="url(#blur1)"/>
<path d="M364.2,511.5 L367,507.6 C372.5,510.5 376.8,514.5 379.3,519 L382.3,517.3 L382,527 L373.5,522.3 L376.2,520.7 C373.8,516.8 369.8,513.7 364.2,511.5 Z" fill="#27b060" filter="url(#blur1)"/>
<text transform="translate(328.3,554.6) rotate(-18)" font-size="11.5" fill="#2272c4" font-weight="bold" textLength="24.5" lengthAdjust="spacingAndGlyphs">Mold</text>
<text x="274.3" y="593.4" font-size="18.5" fill="#b02a2a" font-weight="bold" textLength="49.2" lengthAdjust="spacingAndGlyphs">n-type</text>
<text x="218" y="616" font-size="18.5" fill="#b02a2a" font-weight="bold" textLength="156.5" lengthAdjust="spacingAndGlyphs" xml:space="preserve" style="white-space:pre">(Outward  Bending)</text>
<defs>
<radialGradient id="gSph" cx="0.35" cy="0.3" r="0.7">
<stop offset="0" stop-color="#e8b0c8"/><stop offset="0.22" stop-color="#a83468"/><stop offset="0.7" stop-color="#82204c"/><stop offset="1" stop-color="#5c1636"/></radialGradient>
</defs>
<rect x="568.2" y="346.2" width="234.7" height="235.8" fill="none" stroke="#000" stroke-width="1.5"/>
<g stroke="#000" stroke-width="1.2">
<line x1="568.2" y1="560.8" x2="574.0" y2="560.8"/>
<line x1="568.2" y1="517.8" x2="574.0" y2="517.8"/>
<line x1="568.2" y1="474.9" x2="574.0" y2="474.9"/>
<line x1="568.2" y1="431.9" x2="574.0" y2="431.9"/>
<line x1="568.2" y1="389.0" x2="574.0" y2="389.0"/>
<line x1="568.2" y1="346.0" x2="574.0" y2="346.0"/>
<line x1="568.2" y1="539.3" x2="571.4" y2="539.3"/>
<line x1="568.2" y1="496.4" x2="571.4" y2="496.4"/>
<line x1="568.2" y1="453.4" x2="571.4" y2="453.4"/>
<line x1="568.2" y1="410.4" x2="571.4" y2="410.4"/>
<line x1="568.2" y1="367.5" x2="571.4" y2="367.5"/>
<line x1="591.7" y1="582.0" x2="591.7" y2="576.2"/>
<line x1="638.7" y1="582.0" x2="638.7" y2="576.2"/>
<line x1="685.7" y1="582.0" x2="685.7" y2="576.2"/>
<line x1="732.8" y1="582.0" x2="732.8" y2="576.2"/>
<line x1="779.8" y1="582.0" x2="779.8" y2="576.2"/>
</g>
<text x="561.6" y="565.6" font-size="14.6" fill="#000" font-weight="bold" text-anchor="end" >0</text>
<text x="561.6" y="522.6" font-size="14.6" fill="#000" font-weight="bold" text-anchor="end" >100</text>
<text x="561.6" y="479.7" font-size="14.6" fill="#000" font-weight="bold" text-anchor="end" >200</text>
<text x="561.6" y="436.7" font-size="14.6" fill="#000" font-weight="bold" text-anchor="end" >300</text>
<text x="561.6" y="393.8" font-size="14.6" fill="#000" font-weight="bold" text-anchor="end" >400</text>
<text x="561.6" y="350.8" font-size="14.6" fill="#000" font-weight="bold" text-anchor="end" >500</text>
<text x="590.7" y="598.6" font-size="14.6" fill="#000" font-weight="bold" text-anchor="middle" >-10</text>
<text x="637.7" y="598.6" font-size="14.6" fill="#000" font-weight="bold" text-anchor="middle" >-20</text>
<text x="684.7" y="598.6" font-size="14.6" fill="#000" font-weight="bold" text-anchor="middle" >-30</text>
<text x="731.8" y="598.6" font-size="14.6" fill="#000" font-weight="bold" text-anchor="middle" >-40</text>
<text x="779.8" y="598.6" font-size="14" fill="#000" text-anchor="middle">∞</text>
<text x="606.9" y="616.7" font-size="17" font-weight="bold" fill="#000" textLength="156.7" lengthAdjust="spacingAndGlyphs">Bending Radius (mm)</text>
<text transform="translate(531.2,464) rotate(-90)" font-size="16.5" font-weight="bold" text-anchor="middle" fill="#000">Δ<tspan font-style="italic">I</tspan>/<tspan font-style="italic">I</tspan> (%)</text>
<path d="M591.7,379.9 L638.7,444.4 C654.0,465.0 668.0,492.0 687.5,514.5 C703.0,533.0 716.0,545.0 732.7,553.0 C748.0,558.0 764.0,560.0 779.8,560.4" fill="none" stroke="#7e2946" stroke-width="1.7"/>
<circle cx="591.7" cy="379.9" r="4.5" fill="url(#gSph)"/>
<circle cx="638.7" cy="444.4" r="4.5" fill="url(#gSph)"/>
<circle cx="685.7" cy="517.0" r="4.5" fill="url(#gSph)"/>
<circle cx="732.8" cy="557.8" r="4.5" fill="url(#gSph)"/>
<circle cx="779.8" cy="560.8" r="4.5" fill="url(#gSph)"/>
<text x="635.6" y="381.1" font-size="17.3" fill="#c0201c" font-weight="bold" text-anchor="start" textLength="92.4" lengthAdjust="spacingAndGlyphs" >Compressive</text>
<text x="589.4" y="548.6" font-size="12" font-weight="bold" fill="#2f8c88" textLength="108.7" lengthAdjust="spacingAndGlyphs">638 nm, <tspan font-size="7.5" dy="-4.5">4</tspan><tspan dy="4.5">G</tspan><tspan font-size="7.5" dy="2.5">5/2</tspan><tspan dy="-2.5">→</tspan><tspan font-size="7.5" dy="-4.5">6</tspan><tspan dy="4.5">H</tspan><tspan font-size="7.5" dy="2.5">9/2</tspan></text>
<rect x="873.7" y="346.2" width="236.1" height="235.8" fill="none" stroke="#000" stroke-width="1.5"/>
<g stroke="#000" stroke-width="1.2">
<line x1="873.7" y1="581.9" x2="879.5" y2="581.9"/>
<line x1="873.7" y1="542.6" x2="879.5" y2="542.6"/>
<line x1="873.7" y1="503.3" x2="879.5" y2="503.3"/>
<line x1="873.7" y1="464.0" x2="879.5" y2="464.0"/>
<line x1="873.7" y1="424.8" x2="879.5" y2="424.8"/>
<line x1="873.7" y1="385.5" x2="879.5" y2="385.5"/>
<line x1="873.7" y1="346.2" x2="879.5" y2="346.2"/>
<line x1="873.7" y1="562.2" x2="876.9" y2="562.2"/>
<line x1="873.7" y1="523.0" x2="876.9" y2="523.0"/>
<line x1="873.7" y1="483.7" x2="876.9" y2="483.7"/>
<line x1="873.7" y1="444.4" x2="876.9" y2="444.4"/>
<line x1="873.7" y1="405.1" x2="876.9" y2="405.1"/>
<line x1="873.7" y1="365.8" x2="876.9" y2="365.8"/>
<line x1="890.8" y1="582.0" x2="890.8" y2="576.2"/>
<line x1="924.4" y1="582.0" x2="924.4" y2="576.2"/>
<line x1="958.0" y1="582.0" x2="958.0" y2="576.2"/>
<line x1="991.7" y1="582.0" x2="991.7" y2="576.2"/>
<line x1="1025.3" y1="582.0" x2="1025.3" y2="576.2"/>
<line x1="1058.9" y1="582.0" x2="1058.9" y2="576.2"/>
<line x1="1092.5" y1="582.0" x2="1092.5" y2="576.2"/>
</g>
<text x="868.0" y="586.7" font-size="14.6" fill="#000" font-weight="bold" text-anchor="end" >-200</text>
<text x="868.0" y="547.4" font-size="14.6" fill="#000" font-weight="bold" text-anchor="end" >0</text>
<text x="868.0" y="508.1" font-size="14.6" fill="#000" font-weight="bold" text-anchor="end" >200</text>
<text x="868.0" y="468.8" font-size="14.6" fill="#000" font-weight="bold" text-anchor="end" >400</text>
<text x="868.0" y="429.6" font-size="14.6" fill="#000" font-weight="bold" text-anchor="end" >600</text>
<text x="868.0" y="390.3" font-size="14.6" fill="#000" font-weight="bold" text-anchor="end" >800</text>
<text x="868.0" y="351.0" font-size="14.6" fill="#000" font-weight="bold" text-anchor="end" >1000</text>
<text x="890.8" y="598.6" font-size="14" fill="#000" text-anchor="middle">∞</text>
<text x="924.4" y="598.6" font-size="14.6" fill="#000" font-weight="bold" text-anchor="middle" >40</text>
<text x="958.0" y="598.6" font-size="14.6" fill="#000" font-weight="bold" text-anchor="middle" >30</text>
<text x="991.7" y="598.6" font-size="14.6" fill="#000" font-weight="bold" text-anchor="middle" >20</text>
<text x="1025.3" y="598.6" font-size="14.6" fill="#000" font-weight="bold" text-anchor="middle" >10</text>
<text x="1058.9" y="598.6" font-size="14.6" fill="#000" font-weight="bold" text-anchor="middle" >5</text>
<text x="1092.5" y="598.6" font-size="14.6" fill="#000" font-weight="bold" text-anchor="middle" >3</text>
<text x="913.3" y="618" font-size="17" font-weight="bold" fill="#000" textLength="156.4" lengthAdjust="spacingAndGlyphs">Bending Radius (mm)</text>
<text transform="translate(836.2,464) rotate(-90)" font-size="16.5" font-weight="bold" text-anchor="middle" fill="#000">Δ<tspan font-style="italic">I</tspan>/<tspan font-style="italic">I</tspan> (%)</text>
<path d="M890.8,542.6 C903,542.8 912,543.6 924.3,545.2 C940,548 945,550 957.9,551 C975,552.3 985,552.3 991.6,551.5 C1008,549.5 1020,546 1031,539 C1047,528 1056.5,508 1064,484 C1074,453 1082,415 1092.5,376.1" fill="none" stroke="#7e2946" stroke-width="1.5"/>
<rect x="887.0" y="538.8" width="7.6" height="7.6" fill="#fff" stroke="#7e2946" stroke-width="1"/>
<rect x="887.0" y="538.8" width="4" height="7.6" fill="#7e2946"/>
<rect x="920.6" y="539.6" width="7.6" height="7.6" fill="#fff" stroke="#7e2946" stroke-width="1"/>
<rect x="920.6" y="539.6" width="4" height="7.6" fill="#7e2946"/>
<rect x="954.2" y="546.7" width="7.6" height="7.6" fill="#fff" stroke="#7e2946" stroke-width="1"/>
<rect x="954.2" y="546.7" width="4" height="7.6" fill="#7e2946"/>
<rect x="987.9" y="547.6" width="7.6" height="7.6" fill="#fff" stroke="#1a1ad8" stroke-width="1"/>
<rect x="987.9" y="547.6" width="4" height="7.6" fill="#1a1ad8"/>
<rect x="1021.5" y="543.5" width="7.6" height="7.6" fill="#fff" stroke="#7e2946" stroke-width="1"/>
<rect x="1021.5" y="543.5" width="4" height="7.6" fill="#7e2946"/>
<rect x="1055.1" y="504.4" width="7.6" height="7.6" fill="#fff" stroke="#7e2946" stroke-width="1"/>
<rect x="1055.1" y="504.4" width="4" height="7.6" fill="#7e2946"/>
<rect x="1088.7" y="371.9" width="7.6" height="7.6" fill="#fff" stroke="#7e2946" stroke-width="1"/>
<rect x="1088.7" y="371.9" width="4" height="7.6" fill="#7e2946"/>
<text x="967.5" y="381.1" font-size="17.3" fill="#1c1c8e" font-weight="bold" text-anchor="start" textLength="50.6" lengthAdjust="spacingAndGlyphs" >Tensile</text>
</svg>
</body></html>
